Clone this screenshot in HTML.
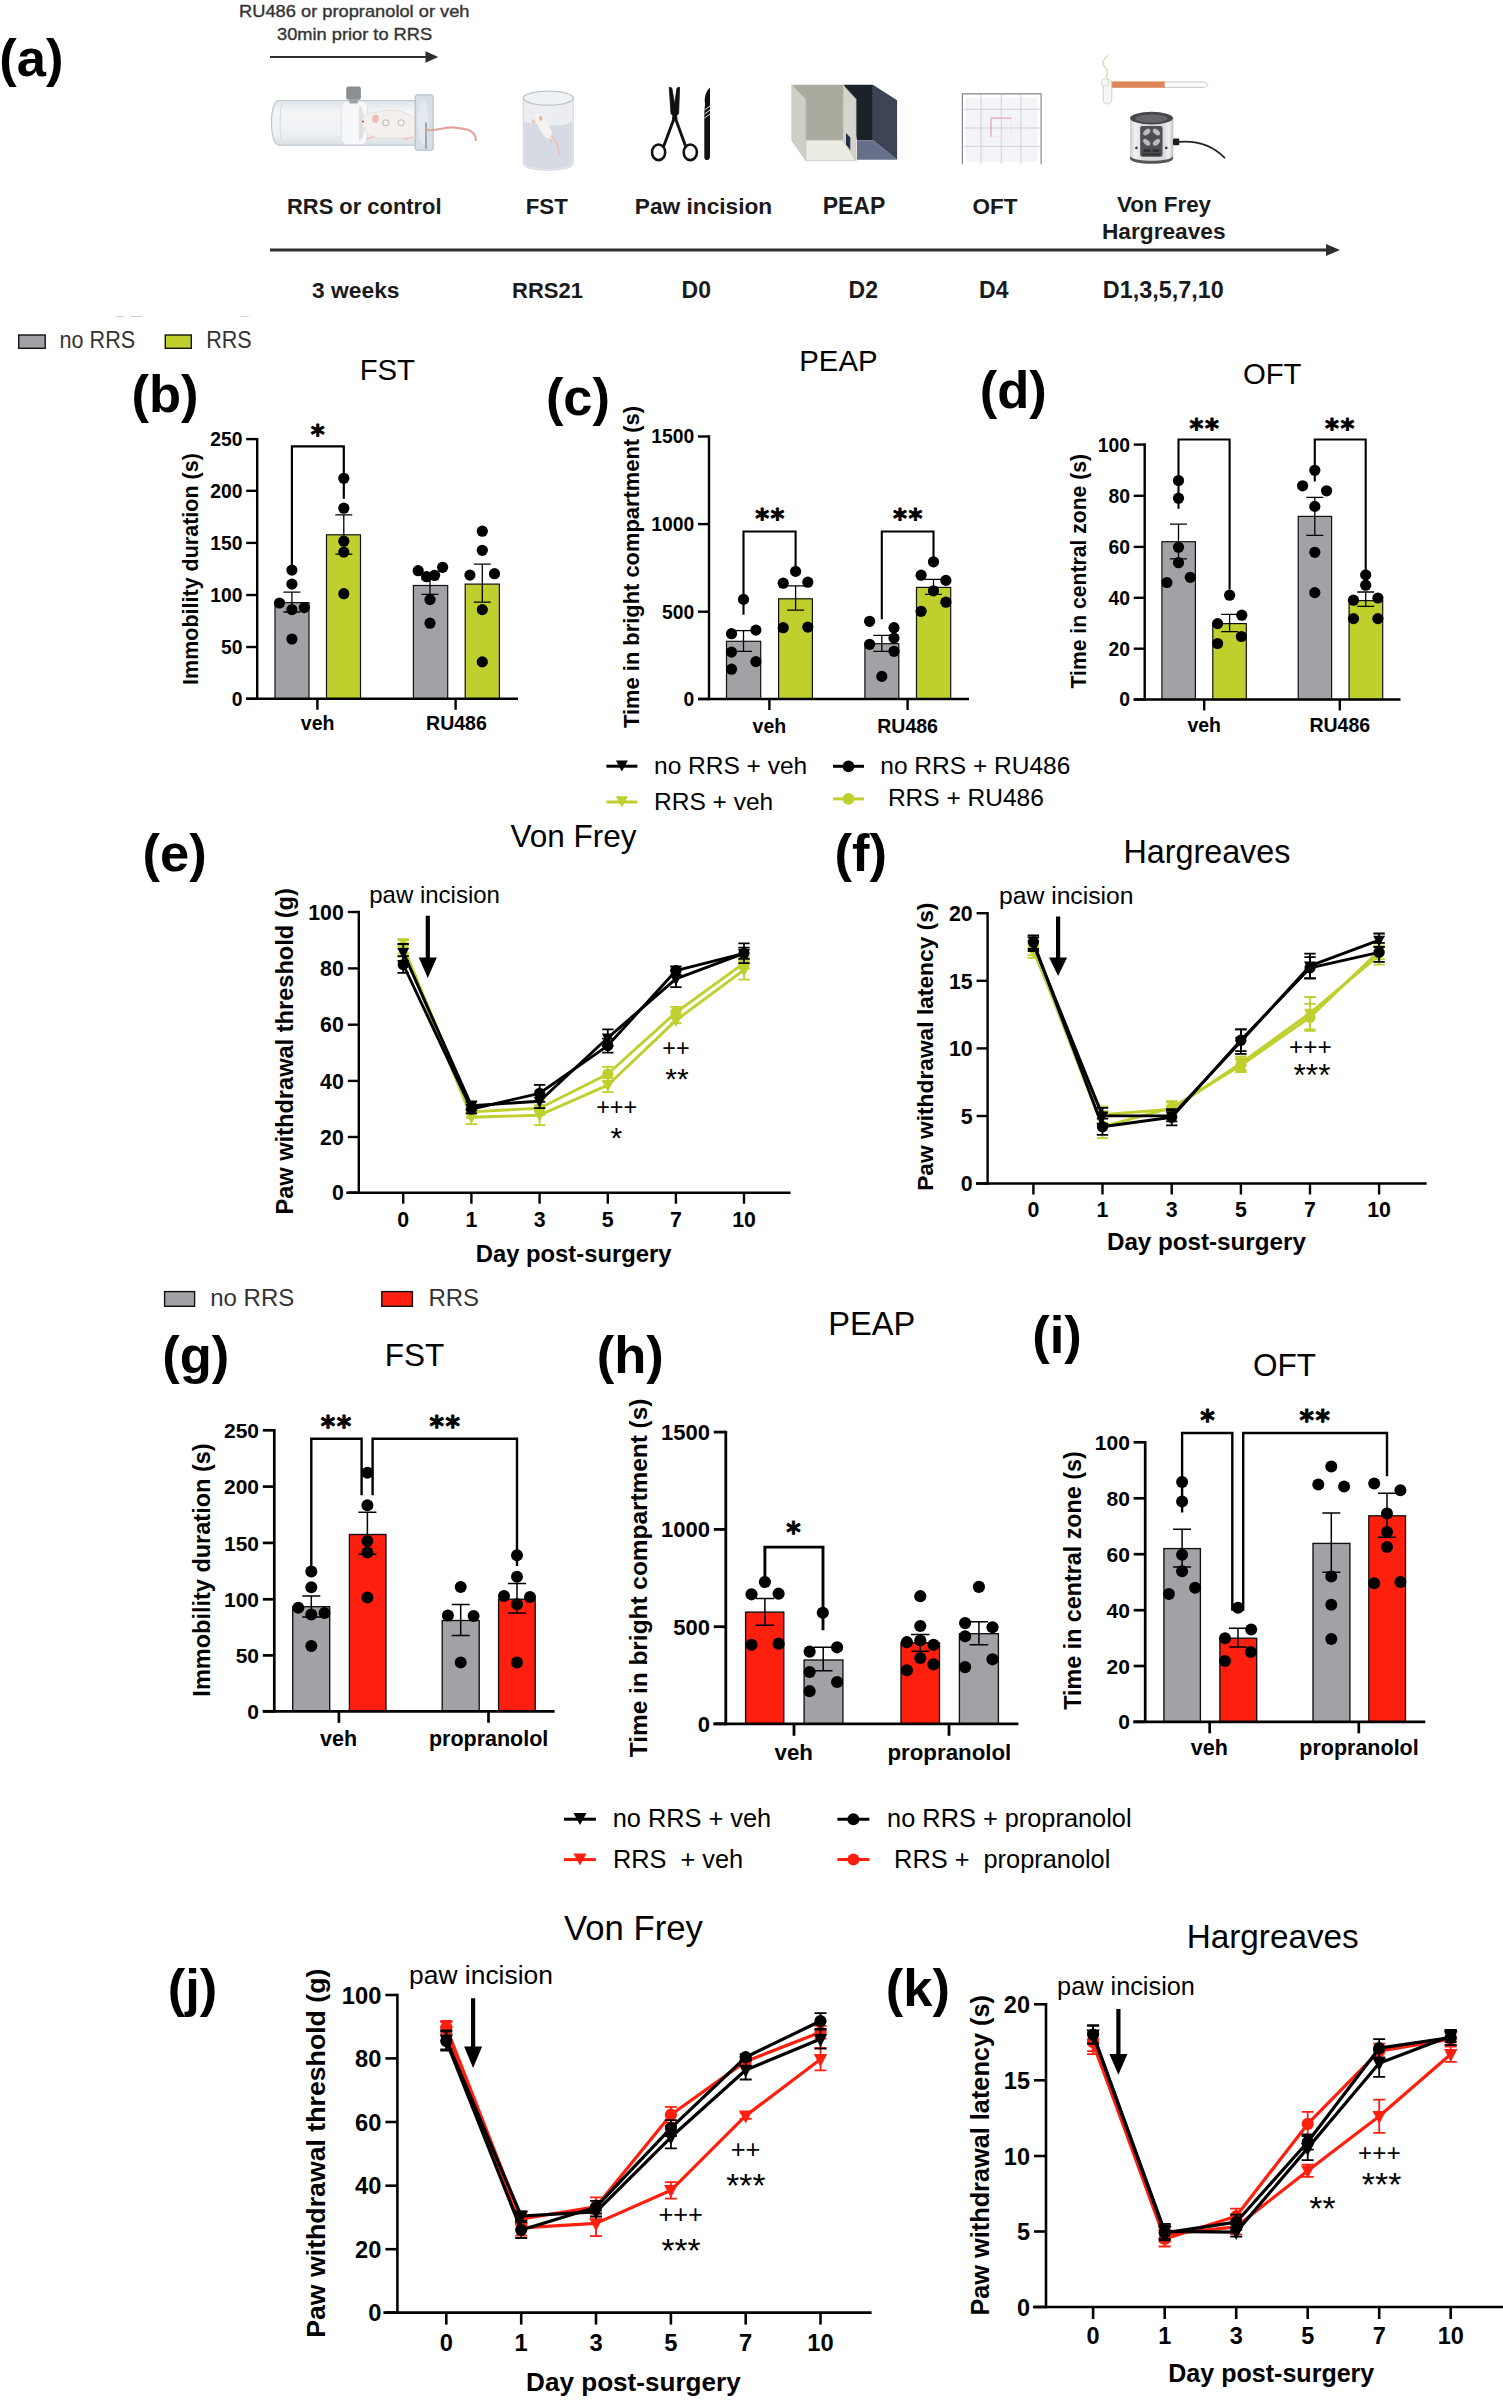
<!DOCTYPE html>
<html lang="en"><head><meta charset="utf-8"><title>Figure</title>
<style>html,body{margin:0;padding:0;background:#fff}svg{display:block}text{font-family:"Liberation Sans",Arial,Helvetica,sans-serif;white-space:pre}</style></head>
<body>
<svg width="1503" height="2400" viewBox="0 0 1503 2400">
<rect width="1503" height="2400" fill="#fff" stroke="none"/>
<text x="-0.7" y="76.0" font-size="52.5" font-weight="700">(a)</text>
<text x="131.5" y="411.7" font-size="52.5" font-weight="700">(b)</text>
<text x="545.9" y="415.3" font-size="52.5" font-weight="700">(c)</text>
<text x="979.8" y="408.1" font-size="52.5" font-weight="700">(d)</text>
<text x="142.6" y="871.3" font-size="52.5" font-weight="700">(e)</text>
<text x="834.5" y="871.3" font-size="52.5" font-weight="700">(f)</text>
<text x="162.3" y="1373.3" font-size="52.5" font-weight="700">(g)</text>
<text x="596.8" y="1373.4" font-size="52.5" font-weight="700">(h)</text>
<text x="1032.3" y="1352.9" font-size="52.5" font-weight="700">(i)</text>
<text x="167.8" y="2006.0" font-size="52.5" font-weight="700">(j)</text>
<text x="885.8" y="2006.0" font-size="52.5" font-weight="700">(k)</text>
<rect x="18.7" y="335.0" width="26.5" height="13.3" fill="#a1a2a6" stroke="#111" stroke-width="1.4"/>
<g transform="translate(0 348.2) scale(1 1.11)">
<text x="59.6" y="0.0" font-size="21.6" fill="#333">no RRS</text>
<text x="206.2" y="0.0" font-size="21.6" fill="#333">RRS</text>
</g>
<rect x="165.3" y="335.0" width="26.0" height="13.3" fill="#bfd02e" stroke="#111" stroke-width="1.4"/>
<rect x="164.6" y="1291.6" width="30.0" height="14.7" fill="#a1a2a6" stroke="#111" stroke-width="1.4"/>
<text x="210.2" y="1306.0" font-size="24" fill="#333">no RRS</text>
<rect x="381.8" y="1291.6" width="30.6" height="14.7" fill="#ff1f0f" stroke="#111" stroke-width="1.4"/>
<text x="428.4" y="1306.0" font-size="24" fill="#333">RRS</text>
<rect x="275.0" y="602.6" width="34.0" height="96.2" fill="#a1a2a6" stroke="#111" stroke-width="1.2"/>
<rect x="326.5" y="534.8" width="34.0" height="164.0" fill="#bfd02e" stroke="#111" stroke-width="1.2"/>
<rect x="413.4" y="585.5" width="34.3" height="113.3" fill="#a1a2a6" stroke="#111" stroke-width="1.2"/>
<rect x="465.2" y="584.1" width="34.2" height="114.7" fill="#bfd02e" stroke="#111" stroke-width="1.2"/>
<line x1="257.2" y1="437.9" x2="257.2" y2="700.0" stroke-width="2.4" stroke="#000"/>
<line x1="246.0" y1="698.8" x2="518.0" y2="698.8" stroke-width="2.4" stroke="#000"/>
<line x1="246.2" y1="439.1" x2="257.2" y2="439.1" stroke-width="2.4" stroke="#000"/>
<text x="242.4" y="446.0" font-size="19.3" font-weight="700" text-anchor="end">250</text>
<line x1="246.2" y1="490.8" x2="257.2" y2="490.8" stroke-width="2.4" stroke="#000"/>
<text x="242.4" y="497.7" font-size="19.3" font-weight="700" text-anchor="end">200</text>
<line x1="246.2" y1="542.9" x2="257.2" y2="542.9" stroke-width="2.4" stroke="#000"/>
<text x="242.4" y="549.8" font-size="19.3" font-weight="700" text-anchor="end">150</text>
<line x1="246.2" y1="595.0" x2="257.2" y2="595.0" stroke-width="2.4" stroke="#000"/>
<text x="242.4" y="601.9" font-size="19.3" font-weight="700" text-anchor="end">100</text>
<line x1="246.2" y1="647.0" x2="257.2" y2="647.0" stroke-width="2.4" stroke="#000"/>
<text x="242.4" y="653.9" font-size="19.3" font-weight="700" text-anchor="end">50</text>
<line x1="246.2" y1="698.8" x2="257.2" y2="698.8" stroke-width="2.4" stroke="#000"/>
<text x="242.4" y="705.7" font-size="19.3" font-weight="700" text-anchor="end">0</text>
<line x1="317.4" y1="698.8" x2="317.4" y2="709.8" stroke-width="2.4" stroke="#000"/>
<line x1="455.6" y1="698.8" x2="455.6" y2="709.8" stroke-width="2.4" stroke="#000"/>
<path d="M283.4 592.1H300.4M283.4 612.0H300.4M291.9 592.1V612.0" fill="none" stroke-width="1.3" stroke="#000"/>
<path d="M335.3 514.8H352.3M335.3 554.1H352.3M343.8 514.8V554.1" fill="none" stroke-width="1.3" stroke="#000"/>
<path d="M421.5 579.7H438.5M421.5 594.3H438.5M430.0 579.7V594.3" fill="none" stroke-width="1.3" stroke="#000"/>
<path d="M473.8 564.1H490.8M473.8 602.2H490.8M482.3 564.1V602.2" fill="none" stroke-width="1.3" stroke="#000"/>
<path d="M291.9 565.7V446.3H343.8V498.8" fill="none" stroke="#000" stroke-width="2.2"/>
<circle cx="291.9" cy="570.1" r="5.6" fill="#000"/>
<circle cx="291.9" cy="584.1" r="5.6" fill="#000"/>
<circle cx="279.5" cy="603.0" r="5.6" fill="#000"/>
<circle cx="304.3" cy="607.6" r="5.6" fill="#000"/>
<circle cx="291.9" cy="609.6" r="5.6" fill="#000"/>
<circle cx="291.9" cy="639.0" r="5.6" fill="#000"/>
<circle cx="343.8" cy="478.3" r="5.6" fill="#000"/>
<circle cx="343.8" cy="508.2" r="5.6" fill="#000"/>
<circle cx="343.8" cy="541.2" r="5.6" fill="#000"/>
<circle cx="343.8" cy="552.1" r="5.6" fill="#000"/>
<circle cx="343.8" cy="593.7" r="5.6" fill="#000"/>
<circle cx="418.2" cy="570.7" r="5.6" fill="#000"/>
<circle cx="442.6" cy="567.3" r="5.6" fill="#000"/>
<circle cx="426.6" cy="576.7" r="5.6" fill="#000"/>
<circle cx="434.6" cy="575.3" r="5.6" fill="#000"/>
<circle cx="430.0" cy="599.6" r="5.6" fill="#000"/>
<circle cx="430.0" cy="623.2" r="5.6" fill="#000"/>
<circle cx="482.3" cy="531.2" r="5.6" fill="#000"/>
<circle cx="482.3" cy="550.3" r="5.6" fill="#000"/>
<circle cx="469.9" cy="575.1" r="5.6" fill="#000"/>
<circle cx="494.5" cy="573.7" r="5.6" fill="#000"/>
<circle cx="482.3" cy="609.6" r="5.6" fill="#000"/>
<circle cx="482.3" cy="661.9" r="5.6" fill="#000"/>
<text x="318.4" y="443.8" font-size="26.5" font-weight="700" text-anchor="middle" style="font-family:DejaVu Sans,Liberation Sans,sans-serif;letter-spacing:1.6px" stroke="#000" stroke-width="0.9" stroke-linejoin="round">*</text>
<text x="317.6" y="730.2" font-size="19.5" font-weight="700" text-anchor="middle">veh</text>
<text x="456.4" y="730.2" font-size="19.5" font-weight="700" text-anchor="middle">RU486</text>
<text x="197.5" y="569.0" font-size="21.5" font-weight="700" text-anchor="middle" transform="rotate(-90 197.5 569.0)">Immobility duration (s)</text>
<text x="387.3" y="379.5" font-size="29.3" text-anchor="middle">FST</text>
<rect x="726.5" y="641.3" width="34.2" height="57.7" fill="#a1a2a6" stroke="#111" stroke-width="1.2"/>
<rect x="778.6" y="598.8" width="33.8" height="100.2" fill="#bfd02e" stroke="#111" stroke-width="1.2"/>
<rect x="864.9" y="643.7" width="33.9" height="55.3" fill="#a1a2a6" stroke="#111" stroke-width="1.2"/>
<rect x="916.5" y="587.4" width="34.2" height="111.6" fill="#bfd02e" stroke="#111" stroke-width="1.2"/>
<line x1="709.0" y1="435.3" x2="709.0" y2="700.2" stroke-width="2.4" stroke="#000"/>
<line x1="698.0" y1="699.0" x2="969.0" y2="699.0" stroke-width="2.4" stroke="#000"/>
<line x1="698.0" y1="436.5" x2="709.0" y2="436.5" stroke-width="2.4" stroke="#000"/>
<text x="694.2" y="443.4" font-size="19.3" font-weight="700" text-anchor="end">1500</text>
<line x1="698.0" y1="524.1" x2="709.0" y2="524.1" stroke-width="2.4" stroke="#000"/>
<text x="694.2" y="531.0" font-size="19.3" font-weight="700" text-anchor="end">1000</text>
<line x1="698.0" y1="611.7" x2="709.0" y2="611.7" stroke-width="2.4" stroke="#000"/>
<text x="694.2" y="618.6" font-size="19.3" font-weight="700" text-anchor="end">500</text>
<line x1="698.0" y1="699.0" x2="709.0" y2="699.0" stroke-width="2.4" stroke="#000"/>
<text x="694.2" y="705.9" font-size="19.3" font-weight="700" text-anchor="end">0</text>
<line x1="769.4" y1="699.0" x2="769.4" y2="710.0" stroke-width="2.4" stroke="#000"/>
<line x1="907.6" y1="699.0" x2="907.6" y2="710.0" stroke-width="2.4" stroke="#000"/>
<path d="M735.0 630.7H752.0M735.0 651.3H752.0M743.5 630.7V651.3" fill="none" stroke-width="1.3" stroke="#000"/>
<path d="M787.1 585.8H804.1M787.1 610.1H804.1M795.6 585.8V610.1" fill="none" stroke-width="1.3" stroke="#000"/>
<path d="M873.3 635.3H890.3M873.3 651.3H890.3M881.8 635.3V651.3" fill="none" stroke-width="1.3" stroke="#000"/>
<path d="M925.0 579.4H942.0M925.0 594.4H942.0M933.5 579.4V594.4" fill="none" stroke-width="1.3" stroke="#000"/>
<path d="M743.5 614.7V531.5H795.6V567.8" fill="none" stroke="#000" stroke-width="2.1"/>
<path d="M881.8 619.3V531.5H933.5V558.8" fill="none" stroke="#000" stroke-width="2.1"/>
<circle cx="743.5" cy="599.4" r="5.6" fill="#000"/>
<circle cx="731.5" cy="633.7" r="5.6" fill="#000"/>
<circle cx="755.9" cy="630.1" r="5.6" fill="#000"/>
<circle cx="731.5" cy="652.1" r="5.6" fill="#000"/>
<circle cx="755.9" cy="661.6" r="5.6" fill="#000"/>
<circle cx="731.5" cy="669.2" r="5.6" fill="#000"/>
<circle cx="795.6" cy="571.4" r="5.6" fill="#000"/>
<circle cx="783.2" cy="583.2" r="5.6" fill="#000"/>
<circle cx="807.8" cy="582.2" r="5.6" fill="#000"/>
<circle cx="783.2" cy="627.7" r="5.6" fill="#000"/>
<circle cx="807.8" cy="627.1" r="5.6" fill="#000"/>
<circle cx="869.6" cy="621.3" r="5.6" fill="#000"/>
<circle cx="894.0" cy="627.7" r="5.6" fill="#000"/>
<circle cx="894.0" cy="638.1" r="5.6" fill="#000"/>
<circle cx="869.6" cy="644.3" r="5.6" fill="#000"/>
<circle cx="894.0" cy="651.3" r="5.6" fill="#000"/>
<circle cx="881.8" cy="676.4" r="5.6" fill="#000"/>
<circle cx="933.5" cy="561.8" r="5.6" fill="#000"/>
<circle cx="921.1" cy="575.2" r="5.6" fill="#000"/>
<circle cx="945.9" cy="580.4" r="5.6" fill="#000"/>
<circle cx="933.5" cy="590.8" r="5.6" fill="#000"/>
<circle cx="945.9" cy="602.2" r="5.6" fill="#000"/>
<circle cx="921.1" cy="611.3" r="5.6" fill="#000"/>
<text x="770.6" y="527.5" font-size="26.5" font-weight="700" text-anchor="middle" style="font-family:DejaVu Sans,Liberation Sans,sans-serif;letter-spacing:1.6px" stroke="#000" stroke-width="0.9" stroke-linejoin="round">**</text>
<text x="908.4" y="527.5" font-size="26.5" font-weight="700" text-anchor="middle" style="font-family:DejaVu Sans,Liberation Sans,sans-serif;letter-spacing:1.6px" stroke="#000" stroke-width="0.9" stroke-linejoin="round">**</text>
<text x="769.4" y="732.5" font-size="19.5" font-weight="700" text-anchor="middle">veh</text>
<text x="907.6" y="732.5" font-size="19.5" font-weight="700" text-anchor="middle">RU486</text>
<text x="638.7" y="567.0" font-size="21.9" font-weight="700" text-anchor="middle" transform="rotate(-90 638.7 567.0)">Time in bright compartment (s)</text>
<text x="838.4" y="370.8" font-size="29.3" text-anchor="middle">PEAP</text>
<rect x="1161.9" y="541.7" width="33.5" height="157.8" fill="#a1a2a6" stroke="#111" stroke-width="1.2"/>
<rect x="1212.8" y="623.6" width="33.5" height="75.9" fill="#bfd02e" stroke="#111" stroke-width="1.2"/>
<rect x="1298.2" y="516.4" width="33.4" height="183.1" fill="#a1a2a6" stroke="#111" stroke-width="1.2"/>
<rect x="1349.1" y="600.6" width="33.6" height="98.9" fill="#bfd02e" stroke="#111" stroke-width="1.2"/>
<line x1="1144.7" y1="443.3" x2="1144.7" y2="700.7" stroke-width="2.4" stroke="#000"/>
<line x1="1133.7" y1="699.5" x2="1400.5" y2="699.5" stroke-width="2.4" stroke="#000"/>
<line x1="1133.7" y1="444.6" x2="1144.7" y2="444.6" stroke-width="2.4" stroke="#000"/>
<text x="1129.9" y="451.5" font-size="19.3" font-weight="700" text-anchor="end">100</text>
<line x1="1133.7" y1="495.8" x2="1144.7" y2="495.8" stroke-width="2.4" stroke="#000"/>
<text x="1129.9" y="502.7" font-size="19.3" font-weight="700" text-anchor="end">80</text>
<line x1="1133.7" y1="546.9" x2="1144.7" y2="546.9" stroke-width="2.4" stroke="#000"/>
<text x="1129.9" y="553.8" font-size="19.3" font-weight="700" text-anchor="end">60</text>
<line x1="1133.7" y1="597.8" x2="1144.7" y2="597.8" stroke-width="2.4" stroke="#000"/>
<text x="1129.9" y="604.7" font-size="19.3" font-weight="700" text-anchor="end">40</text>
<line x1="1133.7" y1="648.7" x2="1144.7" y2="648.7" stroke-width="2.4" stroke="#000"/>
<text x="1129.9" y="655.6" font-size="19.3" font-weight="700" text-anchor="end">20</text>
<line x1="1133.7" y1="699.5" x2="1144.7" y2="699.5" stroke-width="2.4" stroke="#000"/>
<text x="1129.9" y="706.4" font-size="19.3" font-weight="700" text-anchor="end">0</text>
<line x1="1204.2" y1="699.5" x2="1204.2" y2="710.5" stroke-width="2.4" stroke="#000"/>
<line x1="1339.8" y1="699.5" x2="1339.8" y2="710.5" stroke-width="2.4" stroke="#000"/>
<path d="M1170.0 524.2H1187.0M1170.0 558.9H1187.0M1178.5 524.2V558.9" fill="none" stroke-width="1.3" stroke="#000"/>
<path d="M1221.1 614.4H1238.1M1221.1 631.6H1238.1M1229.6 614.4V631.6" fill="none" stroke-width="1.3" stroke="#000"/>
<path d="M1306.3 497.4H1323.3M1306.3 535.3H1323.3M1314.8 497.4V535.3" fill="none" stroke-width="1.3" stroke="#000"/>
<path d="M1357.2 592.0H1374.2M1357.2 606.4H1374.2M1365.7 592.0V606.4" fill="none" stroke-width="1.3" stroke="#000"/>
<path d="M1178.5 508.8V439.5H1229.6V589.6" fill="none" stroke="#000" stroke-width="2.1"/>
<path d="M1314.8 481.5V439.5H1365.7V569.7" fill="none" stroke="#000" stroke-width="2.1"/>
<circle cx="1178.5" cy="480.5" r="5.6" fill="#000"/>
<circle cx="1178.5" cy="498.2" r="5.6" fill="#000"/>
<circle cx="1178.5" cy="547.3" r="5.6" fill="#000"/>
<circle cx="1178.5" cy="562.7" r="5.6" fill="#000"/>
<circle cx="1190.3" cy="577.3" r="5.6" fill="#000"/>
<circle cx="1166.9" cy="582.5" r="5.6" fill="#000"/>
<circle cx="1229.6" cy="595.2" r="5.6" fill="#000"/>
<circle cx="1241.8" cy="615.2" r="5.6" fill="#000"/>
<circle cx="1217.6" cy="623.6" r="5.6" fill="#000"/>
<circle cx="1241.4" cy="636.5" r="5.6" fill="#000"/>
<circle cx="1217.6" cy="643.5" r="5.6" fill="#000"/>
<circle cx="1314.8" cy="470.3" r="5.6" fill="#000"/>
<circle cx="1302.6" cy="485.8" r="5.6" fill="#000"/>
<circle cx="1326.6" cy="490.8" r="5.6" fill="#000"/>
<circle cx="1314.8" cy="506.4" r="5.6" fill="#000"/>
<circle cx="1314.8" cy="552.3" r="5.6" fill="#000"/>
<circle cx="1314.8" cy="592.6" r="5.6" fill="#000"/>
<circle cx="1365.7" cy="574.9" r="5.6" fill="#000"/>
<circle cx="1365.7" cy="585.2" r="5.6" fill="#000"/>
<circle cx="1353.5" cy="600.2" r="5.6" fill="#000"/>
<circle cx="1377.9" cy="598.0" r="5.6" fill="#000"/>
<circle cx="1353.5" cy="618.6" r="5.6" fill="#000"/>
<circle cx="1377.9" cy="618.6" r="5.6" fill="#000"/>
<text x="1205.0" y="437.8" font-size="26.5" font-weight="700" text-anchor="middle" style="font-family:DejaVu Sans,Liberation Sans,sans-serif;letter-spacing:1.6px" stroke="#000" stroke-width="0.9" stroke-linejoin="round">**</text>
<text x="1340.4" y="437.8" font-size="26.5" font-weight="700" text-anchor="middle" style="font-family:DejaVu Sans,Liberation Sans,sans-serif;letter-spacing:1.6px" stroke="#000" stroke-width="0.9" stroke-linejoin="round">**</text>
<text x="1204.2" y="732.0" font-size="19.5" font-weight="700" text-anchor="middle">veh</text>
<text x="1339.8" y="732.0" font-size="19.5" font-weight="700" text-anchor="middle">RU486</text>
<text x="1085.7" y="571.2" font-size="21.15" font-weight="700" text-anchor="middle" transform="rotate(-90 1085.7 571.2)">Time in central zone (s)</text>
<text x="1272.2" y="383.8" font-size="29.3" text-anchor="middle">OFT</text>
<rect x="292.7" y="1606.7" width="37.0" height="104.6" fill="#a1a2a6" stroke="#111" stroke-width="1.35"/>
<rect x="349.4" y="1534.5" width="36.6" height="176.8" fill="#ff1f0f" stroke="#111" stroke-width="1.35"/>
<rect x="442.2" y="1620.5" width="37.0" height="90.8" fill="#a1a2a6" stroke="#111" stroke-width="1.35"/>
<rect x="498.6" y="1599.2" width="36.6" height="112.1" fill="#ff1f0f" stroke="#111" stroke-width="1.35"/>
<line x1="274.3" y1="1429.0" x2="274.3" y2="1712.6" stroke-width="2.7" stroke="#000"/>
<line x1="262.8" y1="1711.3" x2="554.6" y2="1711.3" stroke-width="2.7" stroke="#000"/>
<line x1="262.8" y1="1430.3" x2="274.3" y2="1430.3" stroke-width="2.7" stroke="#000"/>
<text x="259.0" y="1437.9" font-size="21" font-weight="700" text-anchor="end">250</text>
<line x1="262.8" y1="1486.6" x2="274.3" y2="1486.6" stroke-width="2.7" stroke="#000"/>
<text x="259.0" y="1494.2" font-size="21" font-weight="700" text-anchor="end">200</text>
<line x1="262.8" y1="1542.9" x2="274.3" y2="1542.9" stroke-width="2.7" stroke="#000"/>
<text x="259.0" y="1550.5" font-size="21" font-weight="700" text-anchor="end">150</text>
<line x1="262.8" y1="1599.3" x2="274.3" y2="1599.3" stroke-width="2.7" stroke="#000"/>
<text x="259.0" y="1606.9" font-size="21" font-weight="700" text-anchor="end">100</text>
<line x1="262.8" y1="1655.4" x2="274.3" y2="1655.4" stroke-width="2.7" stroke="#000"/>
<text x="259.0" y="1663.0" font-size="21" font-weight="700" text-anchor="end">50</text>
<line x1="262.8" y1="1711.3" x2="274.3" y2="1711.3" stroke-width="2.7" stroke="#000"/>
<text x="259.0" y="1718.9" font-size="21" font-weight="700" text-anchor="end">0</text>
<line x1="338.9" y1="1711.3" x2="338.9" y2="1722.8" stroke-width="2.7" stroke="#000"/>
<line x1="488.5" y1="1711.3" x2="488.5" y2="1722.8" stroke-width="2.7" stroke="#000"/>
<path d="M302.3 1596.0H320.3M302.3 1617.0H320.3M311.3 1596.0V1617.0" fill="none" stroke-width="1.5" stroke="#000"/>
<path d="M358.4 1512.2H376.4M358.4 1554.3H376.4M367.4 1512.2V1554.3" fill="none" stroke-width="1.5" stroke="#000"/>
<path d="M451.7 1604.6H469.7M451.7 1635.6H469.7M460.7 1604.6V1635.6" fill="none" stroke-width="1.5" stroke="#000"/>
<path d="M508.0 1583.6H526.0M508.0 1613.1H526.0M517.0 1583.6V1613.1" fill="none" stroke-width="1.5" stroke="#000"/>
<path d="M311.3 1567.0V1438.8H361.6V1495.3" fill="none" stroke="#000" stroke-width="2.4"/>
<path d="M372.6 1495.3V1438.8H517.0V1566.0" fill="none" stroke="#000" stroke-width="2.4"/>
<circle cx="311.3" cy="1571.6" r="6" fill="#000"/>
<circle cx="311.3" cy="1587.3" r="6" fill="#000"/>
<circle cx="298.3" cy="1607.7" r="6" fill="#000"/>
<circle cx="324.5" cy="1612.9" r="6" fill="#000"/>
<circle cx="311.3" cy="1614.5" r="6" fill="#000"/>
<circle cx="311.3" cy="1646.1" r="6" fill="#000"/>
<circle cx="367.4" cy="1472.8" r="6" fill="#000"/>
<circle cx="367.4" cy="1505.2" r="6" fill="#000"/>
<circle cx="367.4" cy="1540.9" r="6" fill="#000"/>
<circle cx="367.4" cy="1552.6" r="6" fill="#000"/>
<circle cx="367.4" cy="1597.4" r="6" fill="#000"/>
<circle cx="460.7" cy="1587.1" r="6" fill="#000"/>
<circle cx="447.9" cy="1615.6" r="6" fill="#000"/>
<circle cx="473.6" cy="1616.0" r="6" fill="#000"/>
<circle cx="460.7" cy="1662.4" r="6" fill="#000"/>
<circle cx="517.0" cy="1555.3" r="6" fill="#000"/>
<circle cx="517.0" cy="1576.8" r="6" fill="#000"/>
<circle cx="504.0" cy="1596.0" r="6" fill="#000"/>
<circle cx="530.0" cy="1597.0" r="6" fill="#000"/>
<circle cx="517.0" cy="1604.2" r="6" fill="#000"/>
<circle cx="517.0" cy="1662.4" r="6" fill="#000"/>
<text x="336.7" y="1435.7" font-size="27.5" font-weight="700" text-anchor="middle" style="font-family:DejaVu Sans,Liberation Sans,sans-serif;letter-spacing:1.6px" stroke="#000" stroke-width="0.9" stroke-linejoin="round">**</text>
<text x="445.6" y="1435.7" font-size="27.5" font-weight="700" text-anchor="middle" style="font-family:DejaVu Sans,Liberation Sans,sans-serif;letter-spacing:1.6px" stroke="#000" stroke-width="0.9" stroke-linejoin="round">**</text>
<text x="338.6" y="1745.5" font-size="21.5" font-weight="700" text-anchor="middle">veh</text>
<text x="488.6" y="1745.5" font-size="21.5" font-weight="700" text-anchor="middle">propranolol</text>
<text x="209.5" y="1570.0" font-size="23.5" font-weight="700" text-anchor="middle" transform="rotate(-90 209.5 1570.0)">Immobility duration (s)</text>
<text x="414.5" y="1366.4" font-size="31.5" text-anchor="middle">FST</text>
<rect x="745.6" y="1612.1" width="38.2" height="111.7" fill="#ff1f0f" stroke="#111" stroke-width="1.35"/>
<rect x="804.1" y="1660.0" width="38.8" height="63.8" fill="#a1a2a6" stroke="#111" stroke-width="1.35"/>
<rect x="901.0" y="1642.8" width="38.5" height="81.0" fill="#ff1f0f" stroke="#111" stroke-width="1.35"/>
<rect x="959.4" y="1633.7" width="39.0" height="90.1" fill="#a1a2a6" stroke="#111" stroke-width="1.35"/>
<line x1="725.8" y1="1430.7" x2="725.8" y2="1725.2" stroke-width="2.8" stroke="#000"/>
<line x1="713.4" y1="1723.8" x2="1018.4" y2="1723.8" stroke-width="2.8" stroke="#000"/>
<line x1="713.8" y1="1432.1" x2="725.8" y2="1432.1" stroke-width="2.8" stroke="#000"/>
<text x="710.0" y="1440.0" font-size="22" font-weight="700" text-anchor="end">1500</text>
<line x1="713.8" y1="1529.4" x2="725.8" y2="1529.4" stroke-width="2.8" stroke="#000"/>
<text x="710.0" y="1537.3" font-size="22" font-weight="700" text-anchor="end">1000</text>
<line x1="713.8" y1="1626.7" x2="725.8" y2="1626.7" stroke-width="2.8" stroke="#000"/>
<text x="710.0" y="1634.6" font-size="22" font-weight="700" text-anchor="end">500</text>
<line x1="713.8" y1="1723.8" x2="725.8" y2="1723.8" stroke-width="2.8" stroke="#000"/>
<text x="710.0" y="1731.7" font-size="22" font-weight="700" text-anchor="end">0</text>
<line x1="794.0" y1="1723.8" x2="794.0" y2="1735.8" stroke-width="2.8" stroke="#000"/>
<line x1="949.0" y1="1723.8" x2="949.0" y2="1735.8" stroke-width="2.8" stroke="#000"/>
<path d="M755.6 1598.6H774.2M755.6 1625.2H774.2M764.9 1598.6V1625.2" fill="none" stroke-width="1.5" stroke="#000"/>
<path d="M813.9 1647.3H832.5M813.9 1670.7H832.5M823.2 1647.3V1670.7" fill="none" stroke-width="1.5" stroke="#000"/>
<path d="M911.0 1634.6H929.6M911.0 1651.2H929.6M920.3 1634.6V1651.2" fill="none" stroke-width="1.5" stroke="#000"/>
<path d="M969.6 1621.8H988.2M969.6 1644.8H988.2M978.9 1621.8V1644.8" fill="none" stroke-width="1.5" stroke="#000"/>
<path d="M764.9 1577.7V1547.1H823.0V1630.3" fill="none" stroke="#000" stroke-width="2.9"/>
<circle cx="764.9" cy="1582.0" r="6.1" fill="#000"/>
<circle cx="751.5" cy="1594.3" r="6.1" fill="#000"/>
<circle cx="778.6" cy="1593.7" r="6.1" fill="#000"/>
<circle cx="751.5" cy="1644.8" r="6.1" fill="#000"/>
<circle cx="778.6" cy="1643.7" r="6.1" fill="#000"/>
<circle cx="822.8" cy="1612.8" r="6.1" fill="#000"/>
<circle cx="809.6" cy="1651.6" r="6.1" fill="#000"/>
<circle cx="837.1" cy="1647.3" r="6.1" fill="#000"/>
<circle cx="809.6" cy="1672.0" r="6.1" fill="#000"/>
<circle cx="837.1" cy="1682.0" r="6.1" fill="#000"/>
<circle cx="809.6" cy="1691.2" r="6.1" fill="#000"/>
<circle cx="920.3" cy="1596.2" r="6.1" fill="#000"/>
<circle cx="920.3" cy="1626.0" r="6.1" fill="#000"/>
<circle cx="906.9" cy="1642.2" r="6.1" fill="#000"/>
<circle cx="920.3" cy="1640.5" r="6.1" fill="#000"/>
<circle cx="933.5" cy="1644.8" r="6.1" fill="#000"/>
<circle cx="920.3" cy="1658.0" r="6.1" fill="#000"/>
<circle cx="933.5" cy="1664.4" r="6.1" fill="#000"/>
<circle cx="906.9" cy="1670.3" r="6.1" fill="#000"/>
<circle cx="978.9" cy="1586.9" r="6.1" fill="#000"/>
<circle cx="965.1" cy="1623.1" r="6.1" fill="#000"/>
<circle cx="992.5" cy="1627.3" r="6.1" fill="#000"/>
<circle cx="965.1" cy="1636.3" r="6.1" fill="#000"/>
<circle cx="992.5" cy="1659.3" r="6.1" fill="#000"/>
<circle cx="965.1" cy="1667.1" r="6.1" fill="#000"/>
<text x="794.3" y="1542.1" font-size="27.5" font-weight="700" text-anchor="middle" style="font-family:DejaVu Sans,Liberation Sans,sans-serif;letter-spacing:1.6px" stroke="#000" stroke-width="0.9" stroke-linejoin="round">*</text>
<text x="793.7" y="1759.5" font-size="22.3" font-weight="700" text-anchor="middle">veh</text>
<text x="949.4" y="1759.5" font-size="22.3" font-weight="700" text-anchor="middle">propranolol</text>
<text x="646.8" y="1577.9" font-size="24.4" font-weight="700" text-anchor="middle" transform="rotate(-90 646.8 1577.9)">Time in bright compartment (s)</text>
<text x="871.8" y="1335.2" font-size="32.6" text-anchor="middle">PEAP</text>
<rect x="1163.9" y="1548.6" width="36.5" height="173.2" fill="#a1a2a6" stroke="#111" stroke-width="1.35"/>
<rect x="1219.9" y="1638.2" width="36.8" height="83.6" fill="#ff1f0f" stroke="#111" stroke-width="1.35"/>
<rect x="1313.0" y="1543.4" width="36.9" height="178.4" fill="#a1a2a6" stroke="#111" stroke-width="1.35"/>
<rect x="1368.8" y="1515.8" width="36.7" height="206.0" fill="#ff1f0f" stroke="#111" stroke-width="1.35"/>
<line x1="1145.2" y1="1441.0" x2="1145.2" y2="1723.1" stroke-width="2.7" stroke="#000"/>
<line x1="1133.3" y1="1721.8" x2="1425.3" y2="1721.8" stroke-width="2.7" stroke="#000"/>
<line x1="1133.7" y1="1442.3" x2="1145.2" y2="1442.3" stroke-width="2.7" stroke="#000"/>
<text x="1129.9" y="1449.9" font-size="21" font-weight="700" text-anchor="end">100</text>
<line x1="1133.7" y1="1498.3" x2="1145.2" y2="1498.3" stroke-width="2.7" stroke="#000"/>
<text x="1129.9" y="1505.9" font-size="21" font-weight="700" text-anchor="end">80</text>
<line x1="1133.7" y1="1554.2" x2="1145.2" y2="1554.2" stroke-width="2.7" stroke="#000"/>
<text x="1129.9" y="1561.8" font-size="21" font-weight="700" text-anchor="end">60</text>
<line x1="1133.7" y1="1610.2" x2="1145.2" y2="1610.2" stroke-width="2.7" stroke="#000"/>
<text x="1129.9" y="1617.8" font-size="21" font-weight="700" text-anchor="end">40</text>
<line x1="1133.7" y1="1666.0" x2="1145.2" y2="1666.0" stroke-width="2.7" stroke="#000"/>
<text x="1129.9" y="1673.6" font-size="21" font-weight="700" text-anchor="end">20</text>
<line x1="1133.7" y1="1721.8" x2="1145.2" y2="1721.8" stroke-width="2.7" stroke="#000"/>
<text x="1129.9" y="1729.4" font-size="21" font-weight="700" text-anchor="end">0</text>
<line x1="1209.7" y1="1721.8" x2="1209.7" y2="1733.3" stroke-width="2.7" stroke="#000"/>
<line x1="1358.8" y1="1721.8" x2="1358.8" y2="1733.3" stroke-width="2.7" stroke="#000"/>
<path d="M1173.1 1529.3H1191.1M1173.1 1567.1H1191.1M1182.1 1529.3V1567.1" fill="none" stroke-width="1.5" stroke="#000"/>
<path d="M1229.0 1628.3H1247.0M1229.0 1646.9H1247.0M1238.0 1628.3V1646.9" fill="none" stroke-width="1.5" stroke="#000"/>
<path d="M1322.3 1513.0H1340.3M1322.3 1572.2H1340.3M1331.3 1513.0V1572.2" fill="none" stroke-width="1.5" stroke="#000"/>
<path d="M1378.0 1493.2H1396.0M1378.0 1537.2H1396.0M1387.0 1493.2V1537.2" fill="none" stroke-width="1.5" stroke="#000"/>
<path d="M1182.1 1512.4V1433.0H1232.3V1610.8" fill="none" stroke="#000" stroke-width="2.4"/>
<path d="M1243.2 1610.8V1433.0H1387.0V1476.3" fill="none" stroke="#000" stroke-width="2.4"/>
<circle cx="1182.1" cy="1481.9" r="6" fill="#000"/>
<circle cx="1182.1" cy="1501.5" r="6" fill="#000"/>
<circle cx="1182.1" cy="1554.7" r="6" fill="#000"/>
<circle cx="1182.1" cy="1571.2" r="6" fill="#000"/>
<circle cx="1195.1" cy="1587.7" r="6" fill="#000"/>
<circle cx="1168.9" cy="1593.9" r="6" fill="#000"/>
<circle cx="1238.0" cy="1607.7" r="6" fill="#000"/>
<circle cx="1251.2" cy="1629.6" r="6" fill="#000"/>
<circle cx="1225.0" cy="1638.2" r="6" fill="#000"/>
<circle cx="1250.8" cy="1652.1" r="6" fill="#000"/>
<circle cx="1225.0" cy="1660.9" r="6" fill="#000"/>
<circle cx="1331.3" cy="1466.4" r="6" fill="#000"/>
<circle cx="1318.3" cy="1484.6" r="6" fill="#000"/>
<circle cx="1344.1" cy="1486.6" r="6" fill="#000"/>
<circle cx="1331.3" cy="1576.4" r="6" fill="#000"/>
<circle cx="1331.3" cy="1604.8" r="6" fill="#000"/>
<circle cx="1331.3" cy="1638.9" r="6" fill="#000"/>
<circle cx="1374.2" cy="1483.5" r="6" fill="#000"/>
<circle cx="1400.4" cy="1490.3" r="6" fill="#000"/>
<circle cx="1387.0" cy="1513.4" r="6" fill="#000"/>
<circle cx="1387.0" cy="1532.0" r="6" fill="#000"/>
<circle cx="1387.0" cy="1546.9" r="6" fill="#000"/>
<circle cx="1374.2" cy="1583.2" r="6" fill="#000"/>
<circle cx="1400.4" cy="1582.1" r="6" fill="#000"/>
<text x="1208.3" y="1430.1" font-size="27.5" font-weight="700" text-anchor="middle" style="font-family:DejaVu Sans,Liberation Sans,sans-serif;letter-spacing:1.6px" stroke="#000" stroke-width="0.9" stroke-linejoin="round">*</text>
<text x="1315.6" y="1430.1" font-size="27.5" font-weight="700" text-anchor="middle" style="font-family:DejaVu Sans,Liberation Sans,sans-serif;letter-spacing:1.6px" stroke="#000" stroke-width="0.9" stroke-linejoin="round">**</text>
<text x="1209.4" y="1755.3" font-size="21.5" font-weight="700" text-anchor="middle">veh</text>
<text x="1359.0" y="1755.3" font-size="21.5" font-weight="700" text-anchor="middle">propranolol</text>
<text x="1080.5" y="1580.5" font-size="23.3" font-weight="700" text-anchor="middle" transform="rotate(-90 1080.5 1580.5)">Time in central zone (s)</text>
<text x="1284.4" y="1376.0" font-size="31.5" text-anchor="middle">OFT</text>
<line x1="606.4" y1="766.2" x2="637.4" y2="766.2" stroke-width="3" stroke="#000"/>
<path d="M615.9 760.5H627.9L621.9 771.5Z" fill="#000"/>
<text x="654.0" y="773.9" font-size="24.5">no RRS + veh</text>
<line x1="606.4" y1="802.0" x2="637.4" y2="802.0" stroke-width="3" stroke="#bfd02e"/>
<path d="M615.9 796.3H627.9L621.9 807.3Z" fill="#bfd02e"/>
<text x="654.0" y="809.5" font-size="24.5">RRS + veh</text>
<line x1="833.0" y1="766.3" x2="864.0" y2="766.3" stroke-width="3" stroke="#000"/>
<circle cx="848.5" cy="766.3" r="5.9" fill="#000"/>
<text x="880.3" y="773.9" font-size="24.5">no RRS + RU486</text>
<line x1="833.0" y1="798.9" x2="864.0" y2="798.9" stroke-width="3" stroke="#bfd02e"/>
<circle cx="848.5" cy="798.9" r="5.9" fill="#bfd02e"/>
<text x="887.9" y="806.0" font-size="24.5">RRS + RU486</text>
<line x1="564.0" y1="1819.2" x2="595.9" y2="1819.2" stroke-width="3" stroke="#000"/>
<path d="M573.5 1813.0H586.5L580.0 1825.0Z" fill="#000"/>
<text x="612.7" y="1827.2" font-size="25.35">no RRS + veh</text>
<line x1="564.0" y1="1859.6" x2="595.9" y2="1859.6" stroke-width="3" stroke="#ff1f0f"/>
<path d="M573.5 1853.4H586.5L580.0 1865.4Z" fill="#ff1f0f"/>
<text x="612.9" y="1867.6" font-size="25.35">RRS  + veh</text>
<line x1="837.4" y1="1819.2" x2="869.4" y2="1819.2" stroke-width="3" stroke="#000"/>
<circle cx="853.4" cy="1819.2" r="6" fill="#000"/>
<text x="887.1" y="1827.2" font-size="25.35">no RRS + propranolol</text>
<line x1="837.4" y1="1859.6" x2="869.4" y2="1859.6" stroke-width="3" stroke="#ff1f0f"/>
<circle cx="853.4" cy="1859.6" r="6" fill="#ff1f0f"/>
<text x="894.1" y="1867.6" font-size="25.35">RRS +  propranolol</text>
<line x1="358.8" y1="910.8" x2="358.8" y2="1193.9" stroke-width="2.4" stroke="#000"/>
<line x1="346.3" y1="1192.7" x2="790.6" y2="1192.7" stroke-width="2.4" stroke="#000"/>
<line x1="347.8" y1="912.0" x2="358.8" y2="912.0" stroke-width="2.4" stroke="#000"/>
<text x="343.8" y="919.7" font-size="21.3" font-weight="700" text-anchor="end">100</text>
<line x1="347.8" y1="968.4" x2="358.8" y2="968.4" stroke-width="2.4" stroke="#000"/>
<text x="343.8" y="976.1" font-size="21.3" font-weight="700" text-anchor="end">80</text>
<line x1="347.8" y1="1024.7" x2="358.8" y2="1024.7" stroke-width="2.4" stroke="#000"/>
<text x="343.8" y="1032.4" font-size="21.3" font-weight="700" text-anchor="end">60</text>
<line x1="347.8" y1="1080.9" x2="358.8" y2="1080.9" stroke-width="2.4" stroke="#000"/>
<text x="343.8" y="1088.6" font-size="21.3" font-weight="700" text-anchor="end">40</text>
<line x1="347.8" y1="1137.0" x2="358.8" y2="1137.0" stroke-width="2.4" stroke="#000"/>
<text x="343.8" y="1144.7" font-size="21.3" font-weight="700" text-anchor="end">20</text>
<line x1="347.8" y1="1192.6" x2="358.8" y2="1192.6" stroke-width="2.4" stroke="#000"/>
<text x="343.8" y="1200.3" font-size="21.3" font-weight="700" text-anchor="end">0</text>
<line x1="403.2" y1="1192.7" x2="403.2" y2="1203.7" stroke-width="2.4" stroke="#000"/>
<line x1="471.4" y1="1192.7" x2="471.4" y2="1203.7" stroke-width="2.4" stroke="#000"/>
<line x1="539.6" y1="1192.7" x2="539.6" y2="1203.7" stroke-width="2.4" stroke="#000"/>
<line x1="607.8" y1="1192.7" x2="607.8" y2="1203.7" stroke-width="2.4" stroke="#000"/>
<line x1="675.9" y1="1192.7" x2="675.9" y2="1203.7" stroke-width="2.4" stroke="#000"/>
<line x1="744.0" y1="1192.7" x2="744.0" y2="1203.7" stroke-width="2.4" stroke="#000"/>
<text x="403.2" y="1226.6" font-size="21.3" font-weight="700" text-anchor="middle">0</text>
<text x="471.4" y="1226.6" font-size="21.3" font-weight="700" text-anchor="middle">1</text>
<text x="539.6" y="1226.6" font-size="21.3" font-weight="700" text-anchor="middle">3</text>
<text x="607.8" y="1226.6" font-size="21.3" font-weight="700" text-anchor="middle">5</text>
<text x="675.9" y="1226.6" font-size="21.3" font-weight="700" text-anchor="middle">7</text>
<text x="744.0" y="1226.6" font-size="21.3" font-weight="700" text-anchor="middle">10</text>
<path d="M403.2 948.5L471.4 1117.2L539.6 1115.2L607.8 1085.2L675.9 1020.4L744.0 969.8" fill="none" stroke="#bfd02e" stroke-width="2.9" stroke-linejoin="round"/>
<path d="M397.5 940.1H408.9M397.5 956.9H408.9M403.2 940.1V956.9" fill="none" stroke-width="1.8" stroke="#bfd02e"/>
<path d="M465.7 1110.2H477.1M465.7 1124.2H477.1M471.4 1110.2V1124.2" fill="none" stroke-width="1.8" stroke="#bfd02e"/>
<path d="M533.9 1105.4H545.3M533.9 1125.1H545.3M539.6 1105.4V1125.1" fill="none" stroke-width="1.8" stroke="#bfd02e"/>
<path d="M602.1 1078.2H613.5M602.1 1092.2H613.5M607.8 1078.2V1092.2" fill="none" stroke-width="1.8" stroke="#bfd02e"/>
<path d="M670.2 1017.5H681.6M670.2 1023.2H681.6M675.9 1017.5V1023.2" fill="none" stroke-width="1.8" stroke="#bfd02e"/>
<path d="M738.3 960.0H749.7M738.3 979.6H749.7M744.0 960.0V979.6" fill="none" stroke-width="1.8" stroke="#bfd02e"/>
<path d="M397.2 944.1H409.2L403.2 955.1Z" fill="#bfd02e"/>
<path d="M465.4 1112.8H477.4L471.4 1123.8Z" fill="#bfd02e"/>
<path d="M533.6 1110.8H545.6L539.6 1121.8Z" fill="#bfd02e"/>
<path d="M601.8 1080.8H613.8L607.8 1091.8Z" fill="#bfd02e"/>
<path d="M669.9 1016.0H681.9L675.9 1027.0Z" fill="#bfd02e"/>
<path d="M738.0 965.4H750.0L744.0 976.4Z" fill="#bfd02e"/>
<path d="M403.2 946.2L471.4 1111.9L539.6 1108.2L607.8 1074.0L675.9 1012.5L744.0 963.1" fill="none" stroke="#bfd02e" stroke-width="2.9" stroke-linejoin="round"/>
<path d="M397.5 939.2H408.9M397.5 953.3H408.9M403.2 939.2V953.3" fill="none" stroke-width="1.8" stroke="#bfd02e"/>
<path d="M465.7 1106.2H477.1M465.7 1117.5H477.1M471.4 1106.2V1117.5" fill="none" stroke-width="1.8" stroke="#bfd02e"/>
<path d="M533.9 1101.2H545.3M533.9 1115.2H545.3M539.6 1101.2V1115.2" fill="none" stroke-width="1.8" stroke="#bfd02e"/>
<path d="M602.1 1066.9H613.5M602.1 1081.0H613.5M607.8 1066.9V1081.0" fill="none" stroke-width="1.8" stroke="#bfd02e"/>
<path d="M670.2 1006.9H681.6M670.2 1018.1H681.6M675.9 1006.9V1018.1" fill="none" stroke-width="1.8" stroke="#bfd02e"/>
<path d="M738.3 957.5H749.7M738.3 968.7H749.7M744.0 957.5V968.7" fill="none" stroke-width="1.8" stroke="#bfd02e"/>
<circle cx="403.2" cy="946.2" r="5.6" fill="#bfd02e"/>
<circle cx="471.4" cy="1111.9" r="5.6" fill="#bfd02e"/>
<circle cx="539.6" cy="1108.2" r="5.6" fill="#bfd02e"/>
<circle cx="607.8" cy="1074.0" r="5.6" fill="#bfd02e"/>
<circle cx="675.9" cy="1012.5" r="5.6" fill="#bfd02e"/>
<circle cx="744.0" cy="963.1" r="5.6" fill="#bfd02e"/>
<path d="M403.2 952.4L471.4 1105.7L539.6 1101.2L607.8 1037.8L675.9 978.8L744.0 953.3" fill="none" stroke="#000" stroke-width="2.9" stroke-linejoin="round"/>
<path d="M397.5 944.0H408.9M397.5 960.8H408.9M403.2 944.0V960.8" fill="none" stroke-width="1.8" stroke="#000"/>
<path d="M465.7 1101.5H477.1M465.7 1109.9H477.1M471.4 1101.5V1109.9" fill="none" stroke-width="1.8" stroke="#000"/>
<path d="M533.9 1094.2H545.3M533.9 1108.2H545.3M539.6 1094.2V1108.2" fill="none" stroke-width="1.8" stroke="#000"/>
<path d="M602.1 1029.3H613.5M602.1 1046.2H613.5M607.8 1029.3V1046.2" fill="none" stroke-width="1.8" stroke="#000"/>
<path d="M670.2 970.4H681.6M670.2 987.2H681.6M675.9 970.4V987.2" fill="none" stroke-width="1.8" stroke="#000"/>
<path d="M738.3 943.4H749.7M738.3 963.1H749.7M744.0 943.4V963.1" fill="none" stroke-width="1.8" stroke="#000"/>
<path d="M397.2 948.0H409.2L403.2 959.0Z" fill="#000"/>
<path d="M465.4 1101.3H477.4L471.4 1112.3Z" fill="#000"/>
<path d="M533.6 1096.8H545.6L539.6 1107.8Z" fill="#000"/>
<path d="M601.8 1033.4H613.8L607.8 1044.4Z" fill="#000"/>
<path d="M669.9 974.4H681.9L675.9 985.4Z" fill="#000"/>
<path d="M738.0 948.9H750.0L744.0 959.9Z" fill="#000"/>
<path d="M403.2 964.5L471.4 1109.1L539.6 1093.3L607.8 1045.6L675.9 970.7L744.0 953.3" fill="none" stroke="#000" stroke-width="2.9" stroke-linejoin="round"/>
<path d="M397.5 956.1H408.9M397.5 972.9H408.9M403.2 956.1V972.9" fill="none" stroke-width="1.8" stroke="#000"/>
<path d="M465.7 1104.8H477.1M465.7 1113.3H477.1M471.4 1104.8V1113.3" fill="none" stroke-width="1.8" stroke="#000"/>
<path d="M533.9 1084.9H545.3M533.9 1101.8H545.3M539.6 1084.9V1101.8" fill="none" stroke-width="1.8" stroke="#000"/>
<path d="M602.1 1038.6H613.5M602.1 1052.6H613.5M607.8 1038.6V1052.6" fill="none" stroke-width="1.8" stroke="#000"/>
<path d="M670.2 966.5H681.6M670.2 974.9H681.6M675.9 966.5V974.9" fill="none" stroke-width="1.8" stroke="#000"/>
<path d="M738.3 947.6H749.7M738.3 958.9H749.7M744.0 947.6V958.9" fill="none" stroke-width="1.8" stroke="#000"/>
<circle cx="403.2" cy="964.5" r="5.6" fill="#000"/>
<circle cx="471.4" cy="1109.1" r="5.6" fill="#000"/>
<circle cx="539.6" cy="1093.3" r="5.6" fill="#000"/>
<circle cx="607.8" cy="1045.6" r="5.6" fill="#000"/>
<circle cx="675.9" cy="970.7" r="5.6" fill="#000"/>
<circle cx="744.0" cy="953.3" r="5.6" fill="#000"/>
<path d="M425.7 915.8H429.9V957.4H436.8L427.8 978.0L418.8 957.4H425.7Z" fill="#000"/>
<text x="369.2" y="903.0" font-size="24">paw incision</text>
<text x="616.7" y="1114.6" font-size="23.4" text-anchor="middle">+++</text>
<text x="616.4" y="1147.9" font-size="30" text-anchor="middle">*</text>
<text x="676.0" y="1056.4" font-size="23.4" text-anchor="middle">++</text>
<text x="677.0" y="1088.9" font-size="30" text-anchor="middle">**</text>
<text x="292.7" y="1051.3" font-size="23.6" font-weight="700" text-anchor="middle" transform="rotate(-90 292.7 1051.3)">Paw withdrawal threshold (g)</text>
<text x="573.6" y="1261.6" font-size="23.8" font-weight="700" text-anchor="middle">Day post-surgery</text>
<text x="573.6" y="847.4" font-size="31.5" text-anchor="middle">Von Frey</text>
<line x1="987.6" y1="912.0" x2="987.6" y2="1184.7" stroke-width="2.4" stroke="#000"/>
<line x1="976.0" y1="1183.5" x2="1426.6" y2="1183.5" stroke-width="2.4" stroke="#000"/>
<line x1="976.6" y1="913.2" x2="987.6" y2="913.2" stroke-width="2.4" stroke="#000"/>
<text x="972.6" y="920.9" font-size="21.3" font-weight="700" text-anchor="end">20</text>
<line x1="976.6" y1="980.8" x2="987.6" y2="980.8" stroke-width="2.4" stroke="#000"/>
<text x="972.6" y="988.5" font-size="21.3" font-weight="700" text-anchor="end">15</text>
<line x1="976.6" y1="1048.4" x2="987.6" y2="1048.4" stroke-width="2.4" stroke="#000"/>
<text x="972.6" y="1056.1" font-size="21.3" font-weight="700" text-anchor="end">10</text>
<line x1="976.6" y1="1116.0" x2="987.6" y2="1116.0" stroke-width="2.4" stroke="#000"/>
<text x="972.6" y="1123.7" font-size="21.3" font-weight="700" text-anchor="end">5</text>
<line x1="976.6" y1="1183.5" x2="987.6" y2="1183.5" stroke-width="2.4" stroke="#000"/>
<text x="972.6" y="1191.2" font-size="21.3" font-weight="700" text-anchor="end">0</text>
<line x1="1033.4" y1="1183.5" x2="1033.4" y2="1194.5" stroke-width="2.4" stroke="#000"/>
<line x1="1102.5" y1="1183.5" x2="1102.5" y2="1194.5" stroke-width="2.4" stroke="#000"/>
<line x1="1171.7" y1="1183.5" x2="1171.7" y2="1194.5" stroke-width="2.4" stroke="#000"/>
<line x1="1240.9" y1="1183.5" x2="1240.9" y2="1194.5" stroke-width="2.4" stroke="#000"/>
<line x1="1310.0" y1="1183.5" x2="1310.0" y2="1194.5" stroke-width="2.4" stroke="#000"/>
<line x1="1379.1" y1="1183.5" x2="1379.1" y2="1194.5" stroke-width="2.4" stroke="#000"/>
<text x="1033.4" y="1216.5" font-size="21.3" font-weight="700" text-anchor="middle">0</text>
<text x="1102.5" y="1216.5" font-size="21.3" font-weight="700" text-anchor="middle">1</text>
<text x="1171.7" y="1216.5" font-size="21.3" font-weight="700" text-anchor="middle">3</text>
<text x="1240.9" y="1216.5" font-size="21.3" font-weight="700" text-anchor="middle">5</text>
<text x="1310.0" y="1216.5" font-size="21.3" font-weight="700" text-anchor="middle">7</text>
<text x="1379.1" y="1216.5" font-size="21.3" font-weight="700" text-anchor="middle">10</text>
<path d="M1033.4 951.0L1102.5 1114.6L1171.7 1109.2L1240.9 1063.2L1310.0 1013.2L1379.1 955.1" fill="none" stroke="#bfd02e" stroke-width="2.9" stroke-linejoin="round"/>
<path d="M1027.7 944.3H1039.1M1027.7 957.8H1039.1M1033.4 944.3V957.8" fill="none" stroke-width="1.8" stroke="#bfd02e"/>
<path d="M1096.8 1106.5H1108.2M1096.8 1122.7H1108.2M1102.5 1106.5V1122.7" fill="none" stroke-width="1.8" stroke="#bfd02e"/>
<path d="M1166.0 1102.4H1177.4M1166.0 1115.9H1177.4M1171.7 1102.4V1115.9" fill="none" stroke-width="1.8" stroke="#bfd02e"/>
<path d="M1235.2 1056.5H1246.6M1235.2 1070.0H1246.6M1240.9 1056.5V1070.0" fill="none" stroke-width="1.8" stroke="#bfd02e"/>
<path d="M1304.3 997.0H1315.7M1304.3 1029.4H1315.7M1310.0 997.0V1029.4" fill="none" stroke-width="1.8" stroke="#bfd02e"/>
<path d="M1373.4 945.6H1384.8M1373.4 964.6H1384.8M1379.1 945.6V964.6" fill="none" stroke-width="1.8" stroke="#bfd02e"/>
<path d="M1027.4 946.6H1039.4L1033.4 957.6Z" fill="#bfd02e"/>
<path d="M1096.5 1110.2H1108.5L1102.5 1121.2Z" fill="#bfd02e"/>
<path d="M1165.7 1104.8H1177.7L1171.7 1115.8Z" fill="#bfd02e"/>
<path d="M1234.9 1058.8H1246.9L1240.9 1069.8Z" fill="#bfd02e"/>
<path d="M1304.0 1008.8H1316.0L1310.0 1019.8Z" fill="#bfd02e"/>
<path d="M1373.1 950.7H1385.1L1379.1 961.7Z" fill="#bfd02e"/>
<path d="M1033.4 948.3L1102.5 1126.7L1171.7 1107.8L1240.9 1065.2L1310.0 1017.3L1379.1 951.0" fill="none" stroke="#bfd02e" stroke-width="2.9" stroke-linejoin="round"/>
<path d="M1027.7 941.6H1039.1M1027.7 955.1H1039.1M1033.4 941.6V955.1" fill="none" stroke-width="1.8" stroke="#bfd02e"/>
<path d="M1096.8 1115.2H1108.2M1096.8 1138.2H1108.2M1102.5 1115.2V1138.2" fill="none" stroke-width="1.8" stroke="#bfd02e"/>
<path d="M1166.0 1101.1H1177.4M1166.0 1114.6H1177.4M1171.7 1101.1V1114.6" fill="none" stroke-width="1.8" stroke="#bfd02e"/>
<path d="M1235.2 1058.5H1246.6M1235.2 1072.0H1246.6M1240.9 1058.5V1072.0" fill="none" stroke-width="1.8" stroke="#bfd02e"/>
<path d="M1304.3 1003.8H1315.7M1304.3 1030.8H1315.7M1310.0 1003.8V1030.8" fill="none" stroke-width="1.8" stroke="#bfd02e"/>
<path d="M1373.4 942.9H1384.8M1373.4 959.2H1384.8M1379.1 942.9V959.2" fill="none" stroke-width="1.8" stroke="#bfd02e"/>
<circle cx="1033.4" cy="948.3" r="5.6" fill="#bfd02e"/>
<circle cx="1102.5" cy="1126.7" r="5.6" fill="#bfd02e"/>
<circle cx="1171.7" cy="1107.8" r="5.6" fill="#bfd02e"/>
<circle cx="1240.9" cy="1065.2" r="5.6" fill="#bfd02e"/>
<circle cx="1310.0" cy="1017.3" r="5.6" fill="#bfd02e"/>
<circle cx="1379.1" cy="951.0" r="5.6" fill="#bfd02e"/>
<path d="M1033.4 944.3L1102.5 1115.9L1171.7 1115.9L1240.9 1041.6L1310.0 965.9L1379.1 940.2" fill="none" stroke="#000" stroke-width="2.9" stroke-linejoin="round"/>
<path d="M1027.7 937.5H1039.1M1027.7 951.0H1039.1M1033.4 937.5V951.0" fill="none" stroke-width="1.8" stroke="#000"/>
<path d="M1096.8 1107.8H1108.2M1096.8 1124.0H1108.2M1102.5 1107.8V1124.0" fill="none" stroke-width="1.8" stroke="#000"/>
<path d="M1166.0 1110.5H1177.4M1166.0 1121.3H1177.4M1171.7 1110.5V1121.3" fill="none" stroke-width="1.8" stroke="#000"/>
<path d="M1235.2 1029.4H1246.6M1235.2 1053.8H1246.6M1240.9 1029.4V1053.8" fill="none" stroke-width="1.8" stroke="#000"/>
<path d="M1304.3 953.7H1315.7M1304.3 978.1H1315.7M1310.0 953.7V978.1" fill="none" stroke-width="1.8" stroke="#000"/>
<path d="M1373.4 933.5H1384.8M1373.4 947.0H1384.8M1379.1 933.5V947.0" fill="none" stroke-width="1.8" stroke="#000"/>
<path d="M1027.4 939.9H1039.4L1033.4 950.9Z" fill="#000"/>
<path d="M1096.5 1111.5H1108.5L1102.5 1122.5Z" fill="#000"/>
<path d="M1165.7 1111.5H1177.7L1171.7 1122.5Z" fill="#000"/>
<path d="M1234.9 1037.2H1246.9L1240.9 1048.2Z" fill="#000"/>
<path d="M1304.0 961.5H1316.0L1310.0 972.5Z" fill="#000"/>
<path d="M1373.1 935.8H1385.1L1379.1 946.8Z" fill="#000"/>
<path d="M1033.4 942.3L1102.5 1126.7L1171.7 1117.3L1240.9 1040.2L1310.0 967.9L1379.1 952.4" fill="none" stroke="#000" stroke-width="2.9" stroke-linejoin="round"/>
<path d="M1027.7 935.5H1039.1M1027.7 949.0H1039.1M1033.4 935.5V949.0" fill="none" stroke-width="1.8" stroke="#000"/>
<path d="M1096.8 1118.6H1108.2M1096.8 1134.8H1108.2M1102.5 1118.6V1134.8" fill="none" stroke-width="1.8" stroke="#000"/>
<path d="M1166.0 1109.2H1177.4M1166.0 1125.4H1177.4M1171.7 1109.2V1125.4" fill="none" stroke-width="1.8" stroke="#000"/>
<path d="M1235.2 1029.4H1246.6M1235.2 1051.1H1246.6M1240.9 1029.4V1051.1" fill="none" stroke-width="1.8" stroke="#000"/>
<path d="M1304.3 957.1H1315.7M1304.3 978.7H1315.7M1310.0 957.1V978.7" fill="none" stroke-width="1.8" stroke="#000"/>
<path d="M1373.4 942.9H1384.8M1373.4 961.9H1384.8M1379.1 942.9V961.9" fill="none" stroke-width="1.8" stroke="#000"/>
<circle cx="1033.4" cy="942.3" r="5.6" fill="#000"/>
<circle cx="1102.5" cy="1126.7" r="5.6" fill="#000"/>
<circle cx="1171.7" cy="1117.3" r="5.6" fill="#000"/>
<circle cx="1240.9" cy="1040.2" r="5.6" fill="#000"/>
<circle cx="1310.0" cy="967.9" r="5.6" fill="#000"/>
<circle cx="1379.1" cy="952.4" r="5.6" fill="#000"/>
<path d="M1056.0 916.6H1060.2V957.5H1067.1L1058.1 976.0L1049.1 957.5H1056.0Z" fill="#000"/>
<text x="999.0" y="904.3" font-size="24.7">paw incision</text>
<text x="1310.3" y="1055.3" font-size="24.3" text-anchor="middle">+++</text>
<text x="1312.0" y="1085.8" font-size="31.5" text-anchor="middle">***</text>
<text x="933.0" y="1046.7" font-size="22.75" font-weight="700" text-anchor="middle" transform="rotate(-90 933.0 1046.7)">Paw withdrawal latency (s)</text>
<text x="1206.4" y="1250.0" font-size="24.2" font-weight="700" text-anchor="middle">Day post-surgery</text>
<text x="1206.9" y="862.7" font-size="32.3" text-anchor="middle">Hargreaves</text>
<line x1="397.4" y1="1993.7" x2="397.4" y2="2313.9" stroke-width="2.6" stroke="#000"/>
<line x1="383.4" y1="2312.6" x2="871.6" y2="2312.6" stroke-width="2.6" stroke="#000"/>
<line x1="385.4" y1="1995.0" x2="397.4" y2="1995.0" stroke-width="2.6" stroke="#000"/>
<text x="381.4" y="2003.5" font-size="23.7" font-weight="700" text-anchor="end">100</text>
<line x1="385.4" y1="2058.4" x2="397.4" y2="2058.4" stroke-width="2.6" stroke="#000"/>
<text x="381.4" y="2066.9" font-size="23.7" font-weight="700" text-anchor="end">80</text>
<line x1="385.4" y1="2122.0" x2="397.4" y2="2122.0" stroke-width="2.6" stroke="#000"/>
<text x="381.4" y="2130.5" font-size="23.7" font-weight="700" text-anchor="end">60</text>
<line x1="385.4" y1="2185.7" x2="397.4" y2="2185.7" stroke-width="2.6" stroke="#000"/>
<text x="381.4" y="2194.2" font-size="23.7" font-weight="700" text-anchor="end">40</text>
<line x1="385.4" y1="2249.2" x2="397.4" y2="2249.2" stroke-width="2.6" stroke="#000"/>
<text x="381.4" y="2257.7" font-size="23.7" font-weight="700" text-anchor="end">20</text>
<line x1="385.4" y1="2312.6" x2="397.4" y2="2312.6" stroke-width="2.6" stroke="#000"/>
<text x="381.4" y="2321.1" font-size="23.7" font-weight="700" text-anchor="end">0</text>
<line x1="446.3" y1="2312.6" x2="446.3" y2="2324.6" stroke-width="2.6" stroke="#000"/>
<line x1="521.2" y1="2312.6" x2="521.2" y2="2324.6" stroke-width="2.6" stroke="#000"/>
<line x1="596.0" y1="2312.6" x2="596.0" y2="2324.6" stroke-width="2.6" stroke="#000"/>
<line x1="670.9" y1="2312.6" x2="670.9" y2="2324.6" stroke-width="2.6" stroke="#000"/>
<line x1="745.7" y1="2312.6" x2="745.7" y2="2324.6" stroke-width="2.6" stroke="#000"/>
<line x1="820.5" y1="2312.6" x2="820.5" y2="2324.6" stroke-width="2.6" stroke="#000"/>
<text x="446.3" y="2351.0" font-size="23.7" font-weight="700" text-anchor="middle">0</text>
<text x="521.2" y="2351.0" font-size="23.7" font-weight="700" text-anchor="middle">1</text>
<text x="596.0" y="2351.0" font-size="23.7" font-weight="700" text-anchor="middle">3</text>
<text x="670.9" y="2351.0" font-size="23.7" font-weight="700" text-anchor="middle">5</text>
<text x="745.7" y="2351.0" font-size="23.7" font-weight="700" text-anchor="middle">7</text>
<text x="820.5" y="2351.0" font-size="23.7" font-weight="700" text-anchor="middle">10</text>
<path d="M446.3 2031.5L521.2 2227.8L596.0 2223.4L670.9 2190.3L745.7 2115.7L820.5 2059.2" fill="none" stroke="#ff1f0f" stroke-width="3.2" stroke-linejoin="round"/>
<path d="M440.3 2022.0H452.3M440.3 2041.1H452.3M446.3 2022.0V2041.1" fill="none" stroke-width="1.8" stroke="#ff1f0f"/>
<path d="M515.2 2219.9H527.2M515.2 2235.7H527.2M521.2 2219.9V2235.7" fill="none" stroke-width="1.8" stroke="#ff1f0f"/>
<path d="M590.0 2210.7H602.0M590.0 2236.1H602.0M596.0 2210.7V2236.1" fill="none" stroke-width="1.8" stroke="#ff1f0f"/>
<path d="M664.9 2182.1H676.9M664.9 2198.6H676.9M670.9 2182.1V2198.6" fill="none" stroke-width="1.8" stroke="#ff1f0f"/>
<path d="M739.7 2112.5H751.7M739.7 2118.9H751.7M745.7 2112.5V2118.9" fill="none" stroke-width="1.8" stroke="#ff1f0f"/>
<path d="M814.5 2048.0H826.5M814.5 2070.3H826.5M820.5 2048.0V2070.3" fill="none" stroke-width="1.8" stroke="#ff1f0f"/>
<path d="M439.6 2026.3H453.1L446.3 2039.3Z" fill="#ff1f0f"/>
<path d="M514.5 2222.6H528.0L521.2 2235.6Z" fill="#ff1f0f"/>
<path d="M589.2 2218.2H602.8L596.0 2231.2Z" fill="#ff1f0f"/>
<path d="M664.1 2185.1H677.6L670.9 2198.1Z" fill="#ff1f0f"/>
<path d="M739.0 2110.5H752.5L745.7 2123.5Z" fill="#ff1f0f"/>
<path d="M813.8 2054.0H827.2L820.5 2067.0Z" fill="#ff1f0f"/>
<path d="M446.3 2027.4L521.2 2218.9L596.0 2206.8L670.9 2114.7L745.7 2061.4L820.5 2032.2" fill="none" stroke="#ff1f0f" stroke-width="3.2" stroke-linejoin="round"/>
<path d="M440.3 2021.0H452.3M440.3 2033.7H452.3M446.3 2021.0V2033.7" fill="none" stroke-width="1.8" stroke="#ff1f0f"/>
<path d="M515.2 2212.6H527.2M515.2 2225.3H527.2M521.2 2212.6V2225.3" fill="none" stroke-width="1.8" stroke="#ff1f0f"/>
<path d="M590.0 2197.3H602.0M590.0 2216.4H602.0M596.0 2197.3V2216.4" fill="none" stroke-width="1.8" stroke="#ff1f0f"/>
<path d="M664.9 2106.8H676.9M664.9 2122.7H676.9M670.9 2106.8V2122.7" fill="none" stroke-width="1.8" stroke="#ff1f0f"/>
<path d="M739.7 2056.6H751.7M739.7 2066.1H751.7M745.7 2056.6V2066.1" fill="none" stroke-width="1.8" stroke="#ff1f0f"/>
<path d="M814.5 2025.8H826.5M814.5 2038.5H826.5M820.5 2025.8V2038.5" fill="none" stroke-width="1.8" stroke="#ff1f0f"/>
<circle cx="446.3" cy="2027.4" r="6.1" fill="#ff1f0f"/>
<circle cx="521.2" cy="2218.9" r="6.1" fill="#ff1f0f"/>
<circle cx="596.0" cy="2206.8" r="6.1" fill="#ff1f0f"/>
<circle cx="670.9" cy="2114.7" r="6.1" fill="#ff1f0f"/>
<circle cx="745.7" cy="2061.4" r="6.1" fill="#ff1f0f"/>
<circle cx="820.5" cy="2032.2" r="6.1" fill="#ff1f0f"/>
<path d="M446.3 2039.8L521.2 2216.0L596.0 2211.9L670.9 2137.3L745.7 2070.0L820.5 2039.1" fill="none" stroke="#000" stroke-width="3.2" stroke-linejoin="round"/>
<path d="M440.3 2030.3H452.3M440.3 2049.3H452.3M446.3 2030.3V2049.3" fill="none" stroke-width="1.8" stroke="#000"/>
<path d="M515.2 2211.3H527.2M515.2 2220.8H527.2M521.2 2211.3V2220.8" fill="none" stroke-width="1.8" stroke="#000"/>
<path d="M590.0 2207.2H602.0M590.0 2216.7H602.0M596.0 2207.2V2216.7" fill="none" stroke-width="1.8" stroke="#000"/>
<path d="M664.9 2126.2H676.9M664.9 2148.4H676.9M670.9 2126.2V2148.4" fill="none" stroke-width="1.8" stroke="#000"/>
<path d="M739.7 2060.4H751.7M739.7 2079.5H751.7M745.7 2060.4V2079.5" fill="none" stroke-width="1.8" stroke="#000"/>
<path d="M814.5 2029.6H826.5M814.5 2048.7H826.5M820.5 2029.6V2048.7" fill="none" stroke-width="1.8" stroke="#000"/>
<path d="M439.6 2034.6H453.1L446.3 2047.6Z" fill="#000"/>
<path d="M514.5 2210.8H528.0L521.2 2223.8Z" fill="#000"/>
<path d="M589.2 2206.7H602.8L596.0 2219.7Z" fill="#000"/>
<path d="M664.1 2132.1H677.6L670.9 2145.1Z" fill="#000"/>
<path d="M739.0 2064.8H752.5L745.7 2077.8Z" fill="#000"/>
<path d="M813.8 2033.9H827.2L820.5 2046.9Z" fill="#000"/>
<path d="M446.3 2041.1L521.2 2230.0L596.0 2207.2L670.9 2128.1L745.7 2057.2L820.5 2021.0" fill="none" stroke="#000" stroke-width="3.2" stroke-linejoin="round"/>
<path d="M440.3 2031.5H452.3M440.3 2050.6H452.3M446.3 2031.5V2050.6" fill="none" stroke-width="1.8" stroke="#000"/>
<path d="M515.2 2222.1H527.2M515.2 2238.0H527.2M521.2 2222.1V2238.0" fill="none" stroke-width="1.8" stroke="#000"/>
<path d="M590.0 2200.8H602.0M590.0 2213.5H602.0M596.0 2200.8V2213.5" fill="none" stroke-width="1.8" stroke="#000"/>
<path d="M664.9 2120.1H676.9M664.9 2136.0H676.9M670.9 2120.1V2136.0" fill="none" stroke-width="1.8" stroke="#000"/>
<path d="M739.7 2054.1H751.7M739.7 2060.4H751.7M745.7 2054.1V2060.4" fill="none" stroke-width="1.8" stroke="#000"/>
<path d="M814.5 2013.1H826.5M814.5 2029.0H826.5M820.5 2013.1V2029.0" fill="none" stroke-width="1.8" stroke="#000"/>
<circle cx="446.3" cy="2041.1" r="6.1" fill="#000"/>
<circle cx="521.2" cy="2230.0" r="6.1" fill="#000"/>
<circle cx="596.0" cy="2207.2" r="6.1" fill="#000"/>
<circle cx="670.9" cy="2128.1" r="6.1" fill="#000"/>
<circle cx="745.7" cy="2057.2" r="6.1" fill="#000"/>
<circle cx="820.5" cy="2021.0" r="6.1" fill="#000"/>
<path d="M471.0 1998.2H475.2V2046.5H482.1L473.1 2068.1L464.1 2046.5H471.0Z" fill="#000"/>
<text x="409.1" y="1984.3" font-size="26.4">paw incision</text>
<text x="680.7" y="2223.1" font-size="25.4" text-anchor="middle">+++</text>
<text x="681.0" y="2261.6" font-size="33.5" text-anchor="middle">***</text>
<text x="745.6" y="2157.8" font-size="25.4" text-anchor="middle">++</text>
<text x="745.9" y="2196.6" font-size="33.5" text-anchor="middle">***</text>
<text x="325.2" y="2153.2" font-size="26.7" font-weight="700" text-anchor="middle" transform="rotate(-90 325.2 2153.2)">Paw withdrawal threshold (g)</text>
<text x="633.4" y="2391.1" font-size="26.1" font-weight="700" text-anchor="middle">Day post-surgery</text>
<text x="633.5" y="1939.6" font-size="34.7" text-anchor="middle">Von Frey</text>
<line x1="1046.0" y1="2003.0" x2="1046.0" y2="2308.3" stroke-width="2.6" stroke="#000"/>
<line x1="1033.0" y1="2307.0" x2="1503.0" y2="2307.0" stroke-width="2.6" stroke="#000"/>
<line x1="1034.0" y1="2004.3" x2="1046.0" y2="2004.3" stroke-width="2.6" stroke="#000"/>
<text x="1030.0" y="2012.8" font-size="23.5" font-weight="700" text-anchor="end">20</text>
<line x1="1034.0" y1="2080.3" x2="1046.0" y2="2080.3" stroke-width="2.6" stroke="#000"/>
<text x="1030.0" y="2088.8" font-size="23.5" font-weight="700" text-anchor="end">15</text>
<line x1="1034.0" y1="2156.0" x2="1046.0" y2="2156.0" stroke-width="2.6" stroke="#000"/>
<text x="1030.0" y="2164.5" font-size="23.5" font-weight="700" text-anchor="end">10</text>
<line x1="1034.0" y1="2231.5" x2="1046.0" y2="2231.5" stroke-width="2.6" stroke="#000"/>
<text x="1030.0" y="2240.0" font-size="23.5" font-weight="700" text-anchor="end">5</text>
<line x1="1034.0" y1="2307.0" x2="1046.0" y2="2307.0" stroke-width="2.6" stroke="#000"/>
<text x="1030.0" y="2315.5" font-size="23.5" font-weight="700" text-anchor="end">0</text>
<line x1="1093.1" y1="2307.0" x2="1093.1" y2="2319.0" stroke-width="2.6" stroke="#000"/>
<line x1="1164.7" y1="2307.0" x2="1164.7" y2="2319.0" stroke-width="2.6" stroke="#000"/>
<line x1="1236.2" y1="2307.0" x2="1236.2" y2="2319.0" stroke-width="2.6" stroke="#000"/>
<line x1="1307.7" y1="2307.0" x2="1307.7" y2="2319.0" stroke-width="2.6" stroke="#000"/>
<line x1="1379.2" y1="2307.0" x2="1379.2" y2="2319.0" stroke-width="2.6" stroke="#000"/>
<line x1="1450.7" y1="2307.0" x2="1450.7" y2="2319.0" stroke-width="2.6" stroke="#000"/>
<text x="1093.1" y="2344.0" font-size="23.5" font-weight="700" text-anchor="middle">0</text>
<text x="1164.7" y="2344.0" font-size="23.5" font-weight="700" text-anchor="middle">1</text>
<text x="1236.2" y="2344.0" font-size="23.5" font-weight="700" text-anchor="middle">3</text>
<text x="1307.7" y="2344.0" font-size="23.5" font-weight="700" text-anchor="middle">5</text>
<text x="1379.2" y="2344.0" font-size="23.5" font-weight="700" text-anchor="middle">7</text>
<text x="1450.7" y="2344.0" font-size="23.5" font-weight="700" text-anchor="middle">10</text>
<path d="M1093.1 2043.7L1164.7 2234.4L1236.2 2226.8L1307.7 2170.8L1379.2 2116.3L1450.7 2054.2" fill="none" stroke="#ff1f0f" stroke-width="3.2" stroke-linejoin="round"/>
<path d="M1087.1 2033.1H1099.1M1087.1 2054.2H1099.1M1093.1 2033.1V2054.2" fill="none" stroke-width="1.8" stroke="#ff1f0f"/>
<path d="M1158.7 2226.8H1170.7M1158.7 2241.9H1170.7M1164.7 2226.8V2241.9" fill="none" stroke-width="1.8" stroke="#ff1f0f"/>
<path d="M1230.2 2219.2H1242.2M1230.2 2234.4H1242.2M1236.2 2219.2V2234.4" fill="none" stroke-width="1.8" stroke="#ff1f0f"/>
<path d="M1301.7 2164.7H1313.7M1301.7 2176.8H1313.7M1307.7 2164.7V2176.8" fill="none" stroke-width="1.8" stroke="#ff1f0f"/>
<path d="M1373.2 2099.7H1385.2M1373.2 2132.9H1385.2M1379.2 2099.7V2132.9" fill="none" stroke-width="1.8" stroke="#ff1f0f"/>
<path d="M1444.7 2046.7H1456.7M1444.7 2061.8H1456.7M1450.7 2046.7V2061.8" fill="none" stroke-width="1.8" stroke="#ff1f0f"/>
<path d="M1086.3 2038.5H1099.8L1093.1 2051.5Z" fill="#ff1f0f"/>
<path d="M1158.0 2229.2H1171.5L1164.7 2242.2Z" fill="#ff1f0f"/>
<path d="M1229.5 2221.6H1243.0L1236.2 2234.6Z" fill="#ff1f0f"/>
<path d="M1301.0 2165.6H1314.5L1307.7 2178.6Z" fill="#ff1f0f"/>
<path d="M1372.5 2111.1H1386.0L1379.2 2124.1Z" fill="#ff1f0f"/>
<path d="M1444.0 2049.0H1457.5L1450.7 2062.0Z" fill="#ff1f0f"/>
<path d="M1093.1 2042.1L1164.7 2238.9L1236.2 2216.2L1307.7 2123.9L1379.2 2051.2L1450.7 2039.1" fill="none" stroke="#ff1f0f" stroke-width="3.2" stroke-linejoin="round"/>
<path d="M1087.1 2033.1H1099.1M1087.1 2051.2H1099.1M1093.1 2033.1V2051.2" fill="none" stroke-width="1.8" stroke="#ff1f0f"/>
<path d="M1158.7 2231.3H1170.7M1158.7 2246.5H1170.7M1164.7 2231.3V2246.5" fill="none" stroke-width="1.8" stroke="#ff1f0f"/>
<path d="M1230.2 2208.6H1242.2M1230.2 2223.8H1242.2M1236.2 2208.6V2223.8" fill="none" stroke-width="1.8" stroke="#ff1f0f"/>
<path d="M1301.7 2111.8H1313.7M1301.7 2136.0H1313.7M1307.7 2111.8V2136.0" fill="none" stroke-width="1.8" stroke="#ff1f0f"/>
<path d="M1373.2 2043.7H1385.2M1373.2 2058.8H1385.2M1379.2 2043.7V2058.8" fill="none" stroke-width="1.8" stroke="#ff1f0f"/>
<path d="M1444.7 2033.1H1456.7M1444.7 2045.2H1456.7M1450.7 2033.1V2045.2" fill="none" stroke-width="1.8" stroke="#ff1f0f"/>
<circle cx="1093.1" cy="2042.1" r="6.1" fill="#ff1f0f"/>
<circle cx="1164.7" cy="2238.9" r="6.1" fill="#ff1f0f"/>
<circle cx="1236.2" cy="2216.2" r="6.1" fill="#ff1f0f"/>
<circle cx="1307.7" cy="2123.9" r="6.1" fill="#ff1f0f"/>
<circle cx="1379.2" cy="2051.2" r="6.1" fill="#ff1f0f"/>
<circle cx="1450.7" cy="2039.1" r="6.1" fill="#ff1f0f"/>
<path d="M1093.1 2034.6L1164.7 2231.3L1236.2 2232.1L1307.7 2148.1L1379.2 2063.3L1450.7 2036.1" fill="none" stroke="#000" stroke-width="3.2" stroke-linejoin="round"/>
<path d="M1087.1 2025.5H1099.1M1087.1 2043.7H1099.1M1093.1 2025.5V2043.7" fill="none" stroke-width="1.8" stroke="#000"/>
<path d="M1158.7 2223.8H1170.7M1158.7 2238.9H1170.7M1164.7 2223.8V2238.9" fill="none" stroke-width="1.8" stroke="#000"/>
<path d="M1230.2 2227.5H1242.2M1230.2 2236.6H1242.2M1236.2 2227.5V2236.6" fill="none" stroke-width="1.8" stroke="#000"/>
<path d="M1301.7 2136.0H1313.7M1301.7 2160.2H1313.7M1307.7 2136.0V2160.2" fill="none" stroke-width="1.8" stroke="#000"/>
<path d="M1373.2 2049.7H1385.2M1373.2 2076.9H1385.2M1379.2 2049.7V2076.9" fill="none" stroke-width="1.8" stroke="#000"/>
<path d="M1444.7 2030.0H1456.7M1444.7 2042.1H1456.7M1450.7 2030.0V2042.1" fill="none" stroke-width="1.8" stroke="#000"/>
<path d="M1086.3 2029.4H1099.8L1093.1 2042.4Z" fill="#000"/>
<path d="M1158.0 2226.1H1171.5L1164.7 2239.1Z" fill="#000"/>
<path d="M1229.5 2226.9H1243.0L1236.2 2239.9Z" fill="#000"/>
<path d="M1301.0 2142.9H1314.5L1307.7 2155.9Z" fill="#000"/>
<path d="M1372.5 2058.1H1386.0L1379.2 2071.1Z" fill="#000"/>
<path d="M1444.0 2030.9H1457.5L1450.7 2043.9Z" fill="#000"/>
<path d="M1093.1 2034.6L1164.7 2232.8L1236.2 2222.2L1307.7 2142.0L1379.2 2048.2L1450.7 2037.6" fill="none" stroke="#000" stroke-width="3.2" stroke-linejoin="round"/>
<path d="M1087.1 2025.5H1099.1M1087.1 2043.7H1099.1M1093.1 2025.5V2043.7" fill="none" stroke-width="1.8" stroke="#000"/>
<path d="M1158.7 2225.3H1170.7M1158.7 2240.4H1170.7M1164.7 2225.3V2240.4" fill="none" stroke-width="1.8" stroke="#000"/>
<path d="M1230.2 2214.7H1242.2M1230.2 2229.8H1242.2M1236.2 2214.7V2229.8" fill="none" stroke-width="1.8" stroke="#000"/>
<path d="M1301.7 2134.5H1313.7M1301.7 2149.6H1313.7M1307.7 2134.5V2149.6" fill="none" stroke-width="1.8" stroke="#000"/>
<path d="M1373.2 2039.1H1385.2M1373.2 2057.3H1385.2M1379.2 2039.1V2057.3" fill="none" stroke-width="1.8" stroke="#000"/>
<path d="M1444.7 2030.0H1456.7M1444.7 2045.2H1456.7M1450.7 2030.0V2045.2" fill="none" stroke-width="1.8" stroke="#000"/>
<circle cx="1093.1" cy="2034.6" r="6.1" fill="#000"/>
<circle cx="1164.7" cy="2232.8" r="6.1" fill="#000"/>
<circle cx="1236.2" cy="2222.2" r="6.1" fill="#000"/>
<circle cx="1307.7" cy="2142.0" r="6.1" fill="#000"/>
<circle cx="1379.2" cy="2048.2" r="6.1" fill="#000"/>
<circle cx="1450.7" cy="2037.6" r="6.1" fill="#000"/>
<path d="M1116.3 2008.9H1120.5V2054.1H1127.4L1118.4 2074.8L1109.4 2054.1H1116.3Z" fill="#000"/>
<text x="1057.1" y="1994.9" font-size="25.3">paw incision</text>
<text x="1379.4" y="2161.4" font-size="24.4" text-anchor="middle">+++</text>
<text x="1381.6" y="2196.1" font-size="33.9" text-anchor="middle">***</text>
<text x="1322.4" y="2219.5" font-size="33.9" text-anchor="middle">**</text>
<text x="989.3" y="2155.3" font-size="25.3" font-weight="700" text-anchor="middle" transform="rotate(-90 989.3 2155.3)">Paw withdrawal latency (s)</text>
<text x="1271.3" y="2381.7" font-size="25.05" font-weight="700" text-anchor="middle">Day post-surgery</text>
<text x="1272.7" y="1948.0" font-size="33.3" text-anchor="middle">Hargreaves</text>
<text x="239.1" y="17.1" font-size="16.4" fill="#333" stroke="#333" stroke-width="0.35" lengthAdjust="spacingAndGlyphs" textLength="230.4">RU486 or propranolol or veh</text>
<text x="277.1" y="40.4" font-size="16.4" fill="#333" stroke="#333" stroke-width="0.35" lengthAdjust="spacingAndGlyphs" textLength="155">30min prior to RRS</text>
<line x1="270.0" y1="57.0" x2="428.0" y2="57.0" stroke-width="2.2" stroke="#2e2e2e"/>
<path d="M425.5 51.3L438.3 57L425.5 62.7Z" fill="#2e2e2e"/>
<text x="364.3" y="214.3" font-size="21.9" font-weight="700" text-anchor="middle" fill="#1a1a1a">RRS or control</text>
<text x="546.8" y="214.3" font-size="22.3" font-weight="700" text-anchor="middle" fill="#1a1a1a">FST</text>
<text x="703.5" y="214.0" font-size="22.7" font-weight="700" text-anchor="middle" fill="#1a1a1a">Paw incision</text>
<text x="854.0" y="214.0" font-size="23" font-weight="700" text-anchor="middle" fill="#1a1a1a">PEAP</text>
<text x="995.0" y="214.0" font-size="22.5" font-weight="700" text-anchor="middle" fill="#1a1a1a">OFT</text>
<text x="1164.0" y="211.5" font-size="22.4" font-weight="700" text-anchor="middle" fill="#1a1a1a">Von Frey</text>
<text x="1163.8" y="239.0" font-size="22.7" font-weight="700" text-anchor="middle" fill="#1a1a1a">Hargreaves</text>
<text x="355.8" y="297.5" font-size="22.8" font-weight="700" text-anchor="middle" fill="#1a1a1a">3 weeks</text>
<text x="547.5" y="297.5" font-size="22" font-weight="700" text-anchor="middle" fill="#1a1a1a">RRS21</text>
<text x="696.3" y="297.5" font-size="23" font-weight="700" text-anchor="middle" fill="#1a1a1a">D0</text>
<text x="863.3" y="297.5" font-size="23" font-weight="700" text-anchor="middle" fill="#1a1a1a">D2</text>
<text x="993.8" y="297.5" font-size="23" font-weight="700" text-anchor="middle" fill="#1a1a1a">D4</text>
<text x="1163.3" y="297.5" font-size="23.4" font-weight="700" text-anchor="middle" fill="#1a1a1a">D1,3,5,7,10</text>
<line x1="270.0" y1="250.0" x2="1328.0" y2="250.0" stroke-width="2.8" stroke="#2e2e2e"/>
<path d="M1326 244L1340 250L1326 256Z" fill="#2e2e2e"/>
<defs><linearGradient id="tg" x1="0" y1="0" x2="0" y2="1"><stop offset="0" stop-color="#dfe4e9"/><stop offset="0.25" stop-color="#f3f5f7"/><stop offset="0.75" stop-color="#eef1f4"/><stop offset="1" stop-color="#d9dfe5"/></linearGradient></defs>
<g>
<path d="M279 100.5H416V145.2H279C274 145.2 271.5 135 271.5 122.8C271.5 110.5 274 100.5 279 100.5Z" fill="url(#tg)" stroke="#bcc4cc" stroke-width="1.1"/>
<path d="M282 104C279.5 109 279.5 137 282 142" fill="none" stroke="#d5dbe1" stroke-width="1"/>
<rect x="341.2" y="101.2" width="26.3" height="43.4" rx="6" fill="#f7f8f9" stroke="#d9dde1" stroke-width="0.9"/>
<path d="M359 105C366 108 367 138 359 141Z" fill="#dfe2e5"/>
<rect x="346.2" y="86.6" width="14.7" height="13.2" rx="2.2" fill="#8c8f92"/><rect x="349.3" y="99.3" width="8.6" height="4.2" fill="#9fa2a5"/>
<path d="M361.8 122C362.5 115 369 111.5 376 112.5C383 110 396 109 405 113C414 116 422 125 423 133C421 137 414 137.5 409 137.5C400 139.5 388 137 380 138C374 139 368 136 366 131C363.5 128 361.5 125 361.8 122Z" fill="#f4f0ed" stroke="#e2dad3" stroke-width="0.8"/>
<ellipse cx="375.5" cy="118.8" rx="3.2" ry="4.2" fill="#ebbdb6" transform="rotate(15 375.5 118.8)"/><circle cx="362.9" cy="121.4" r="1" fill="#cf4848"/>
<circle cx="385.8" cy="122.7" r="2.9" fill="#fbfbfb" stroke="#c4c6c8" stroke-width="1.3"/><circle cx="401.1" cy="122.7" r="2.9" fill="#fbfbfb" stroke="#c4c6c8" stroke-width="1.3"/>
<path d="M366.5 139.5C369 137.5 372 138 374 136.5M404 139C407 138 410 139 412.5 137" fill="none" stroke="#eec3bc" stroke-width="1.6" stroke-linecap="round"/>
<rect x="415.2" y="94.8" width="18" height="55.4" rx="2.2" fill="#d6dfe6" stroke="#aeb8c1" stroke-width="1"/>
<ellipse cx="423" cy="122" rx="5.5" ry="22" fill="#e3e9ee"/>
<rect x="425.2" y="122.4" width="1.6" height="26.4" fill="#8f9aa3"/>
<path d="M426.8 129.8C436 132 446 126 455.3 127.6C463 128.5 467 129 470 130.6C474 133 476 136.5 475.8 140" fill="none" stroke="#e0a39b" stroke-width="2.1" stroke-linecap="round"/>
</g>
<g>
<path d="M523.3 98V163.5C523.3 172.5 573.3 172.5 573.3 163.5V98Z" fill="#ebedf1" stroke="#ced3d9" stroke-width="0.9"/>
<path d="M524.3 121C536 126 560 126 572.3 121V163C572.3 171 524.3 171 524.3 163Z" fill="#d5dae3"/>
<ellipse cx="556" cy="120.3" rx="16.5" ry="5.2" fill="#eaedf2"/>
<ellipse cx="548.3" cy="98.1" rx="25" ry="7" fill="#eff2f4" stroke="#c0c6cd" stroke-width="1.4"/>
<ellipse cx="543.8" cy="126" rx="5.2" ry="15" fill="#f6f3f1" transform="rotate(-27 543.8 126)"/>
<ellipse cx="540.8" cy="118.2" rx="1.8" ry="2.6" fill="#eab5ad"/><ellipse cx="533.5" cy="121.5" rx="1.6" ry="2.4" fill="#eec2bb" transform="rotate(-30 533.5 121.5)"/>
<path d="M551 136C556 139 558.5 147 559.2 154.5M549.5 138.5L551.5 142.5" fill="none" stroke="#ecbdb6" stroke-width="1.5" stroke-linecap="round"/>
</g>
<g fill="none" stroke="#111">
<ellipse cx="658.6" cy="152.3" rx="6.6" ry="7.8" stroke-width="2.6"/><ellipse cx="690.3" cy="152.3" rx="6.6" ry="7.8" stroke-width="2.6"/>
<path d="M663.6 146.4L675.2 115.5M685.7 146.4L674.4 115.5" stroke-width="2.9" stroke-linecap="round"/>
<path d="M672.4 119L678.6 113.8L679.6 87.2L677 88Z" fill="#111" stroke-width="0.8" stroke-linejoin="round"/>
<path d="M677.2 119L671 113.8L669.2 87.2L671.8 88Z" fill="#111" stroke-width="0.8" stroke-linejoin="round"/>
<path d="M707 160C704.5 160 704.3 158 704.3 156V112L705 104C704 97 706 91 710 87.5V156C710 158 709.5 160 707 160Z" fill="#111" stroke="none"/>
<path d="M704.5 110L710 106M704.5 114L710 110M704.5 118L710 114" stroke="#fff" stroke-width="0.9"/>
</g>
<g stroke="#bdbdb5" stroke-width="0.6" stroke-linejoin="round">
<path d="M805.8 99.2H843.1V140.2H805.8Z" fill="#aaab9f"/>
<path d="M791.8 84.7H844L856.1 99.2H805.8Z" fill="#aaab9f" stroke="none"/>
<path d="M793 85H843.5V140H806Z" fill="#aaab9f" stroke="none"/>
<path d="M791.8 84.7L805.8 99.2V160.7L791.8 140.5Z" fill="#cfcfc8"/>
<path d="M805.8 140.2H843.1L856.1 160.7H805.8Z" fill="#ecebe4"/>
<path d="M844 84.7H872.9V140.2H857Z" fill="#1c2229" stroke="none"/>
<path d="M872.9 84.7L897.1 100.2V159.8L872.9 140.2Z" fill="#3e4454" stroke="none"/>
<path d="M857 140.2H872.9L897.1 159.8H857Z" fill="#66708a" stroke="none"/>
<path d="M843.1 84.9L856.1 99.2V160.7L843.1 140.2Z" fill="#d5d5cd"/>
<path d="M846 133L850.3 137.5V150L846 144.5Z" fill="#27304a" stroke="none"/>
</g>
<g fill="none">
<rect x="965.7" y="97.6" width="71.8" height="64" fill="#f3f4f7" stroke="none"/>
<path d="M981.1 95V164M1001.2 95V164M1021 95V164M964 109.3H1040M964 128H1040M964 146.3H1040" stroke="#cfd1d6" stroke-width="1"/>
<path d="M962.4 164.2V93.9H1041.1V164.2" stroke="#84888c" stroke-width="1.2"/>
<path d="M1011.1 118.1V136.4H991" stroke="#f5e3ea" stroke-width="0.8"/>
<path d="M991 136.6V118.1H1011.3" stroke="#e3a3be" stroke-width="1.3"/>
</g>
<g>
<path d="M1164 82H1204.5L1208.3 84.7L1204.5 87.4H1164Z" fill="#fbfbfb" stroke="#c4c4c4" stroke-width="0.9" stroke-linejoin="round"/>
<rect x="1109.8" y="81.4" width="54.8" height="6.4" fill="#df8558"/>
<rect x="1103.2" y="79" width="8.6" height="25" rx="4.3" fill="#f5f5f3" stroke="#cbcbcb" stroke-width="0.9"/>
<circle cx="1105" cy="82.3" r="3.8" fill="#f7f7f5" stroke="#d2d2d2" stroke-width="0.8"/>
<path d="M1106.2 77.6C1108.5 72 1107 69 1104 66C1101 62.5 1104.5 58.5 1108 55.2" fill="none" stroke="#c9b877" stroke-width="0.9"/>
</g>
<defs><linearGradient id="hg" x1="0" y1="0" x2="1" y2="0"><stop offset="0" stop-color="#c9ccd0"/><stop offset="0.12" stop-color="#f1f2f3"/><stop offset="0.3" stop-color="#d9dbde"/><stop offset="0.78" stop-color="#d5d7da"/><stop offset="0.9" stop-color="#f0f1f2"/><stop offset="1" stop-color="#bfc2c6"/></linearGradient></defs>
<g>
<path d="M1130 118V158.5C1130 165.5 1173.1 165.5 1173.1 158.5V118Z" fill="#55565a"/>
<path d="M1130 118V155.5C1130 162.5 1173.1 162.5 1173.1 155.5V118Z" fill="url(#hg)"/>
<ellipse cx="1151.5" cy="118.1" rx="21.5" ry="6.3" fill="#47474a"/><ellipse cx="1151.5" cy="118.6" rx="16" ry="4" fill="#66676a"/>
<rect x="1140.2" y="126" width="22.3" height="30.8" rx="2.2" fill="#4e4f52"/>
<ellipse cx="1146.7" cy="132.1" rx="4.2" ry="2.5" fill="#b9bbbe" transform="rotate(-40 1146.7 132.1)"/>
<ellipse cx="1156.5" cy="132.1" rx="4.2" ry="2.5" fill="#b9bbbe" transform="rotate(40 1156.5 132.1)"/>
<ellipse cx="1146.7" cy="142.3" rx="4.2" ry="2.5" fill="#b9bbbe" transform="rotate(40 1146.7 142.3)"/>
<ellipse cx="1156.5" cy="142.3" rx="4.2" ry="2.5" fill="#b9bbbe" transform="rotate(-40 1156.5 142.3)"/>
<rect x="1143.5" y="149.3" width="7" height="2.8" rx="1" fill="#2f3032"/><rect x="1152.5" y="149.3" width="7" height="2.8" rx="1" fill="#2f3032"/><rect x="1142.5" y="153.3" width="18" height="2.3" fill="#333436"/>
<circle cx="1136.4" cy="147.9" r="1.3" fill="#3a3a3c"/><circle cx="1166.3" cy="147.9" r="1.3" fill="#3a3a3c"/>
<rect x="1173" y="138.6" width="6.3" height="6.6" rx="1" fill="#1c1c1e"/>
<path d="M1179 141.9C1196 140.5 1211 144 1224.5 157.7" fill="none" stroke="#222" stroke-width="1.7" stroke-linecap="round"/>
</g>
<path d="M115.7 316.5H124.2M130.3 316.5H142.3M240.7 316.5H248.7" stroke="#d2d2d2" stroke-width="1" fill="none"/>
</svg>
</body></html>
